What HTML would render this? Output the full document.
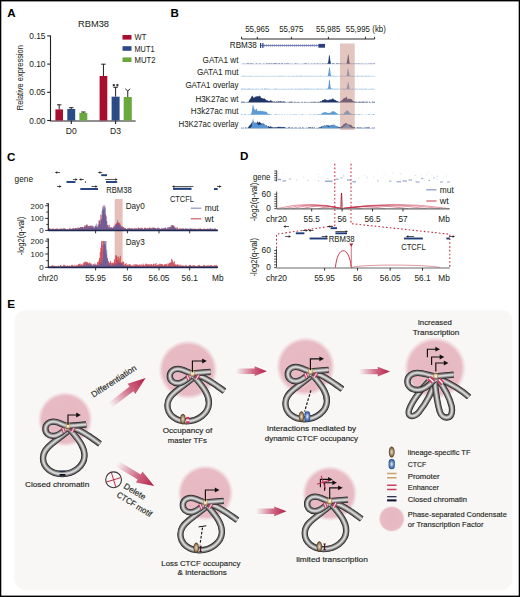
<!DOCTYPE html>
<html><head><meta charset="utf-8"><style>
html,body{margin:0;padding:0;background:#fff;}
svg{display:block;font-family:"Liberation Sans", sans-serif;} text{stroke:#231f20;stroke-width:0.04px;} .e text{stroke-width:0.14px;}
</style></head><body>
<svg width="520" height="597" viewBox="0 0 520 597">
<rect x="0" y="0" width="520" height="597" fill="#fff"/>
<text x="7.2" y="16.7" font-size="11.6" text-anchor="start" fill="#000" font-weight="bold" >A</text>
<text x="93.5" y="27.4" font-size="9.9" text-anchor="middle" fill="#231f20" font-weight="normal" textLength="31" lengthAdjust="spacingAndGlyphs" >RBM38</text>
<text transform="translate(22.8,77.7) rotate(-90)" x="0" y="0" font-size="8.2" text-anchor="middle" fill="#231f20" textLength="65" lengthAdjust="spacingAndGlyphs">Relative expression</text>
<g stroke="#231f20" stroke-width="1.1" fill="none">
<path d="M50.5,35.4 V121 H135.6"/>
<path d="M47.2,35.9 H50.5"/>
<path d="M47.2,64.1 H50.5"/>
<path d="M47.2,92.3 H50.5"/>
<path d="M47.2,120.5 H50.5"/>
<path d="M71.3,120.5 V124 M115.6,120.5 V124"/>
</g>
<text x="45.5" y="38.9" font-size="8.3" text-anchor="end" fill="#231f20" font-weight="normal" textLength="16.2" lengthAdjust="spacingAndGlyphs" >0.15</text>
<text x="45.5" y="67.1" font-size="8.3" text-anchor="end" fill="#231f20" font-weight="normal" textLength="16.2" lengthAdjust="spacingAndGlyphs" >0.10</text>
<text x="45.5" y="95.3" font-size="8.3" text-anchor="end" fill="#231f20" font-weight="normal" textLength="16.2" lengthAdjust="spacingAndGlyphs" >0.05</text>
<text x="45.5" y="123.5" font-size="8.3" text-anchor="end" fill="#231f20" font-weight="normal" textLength="16.2" lengthAdjust="spacingAndGlyphs" >0.00</text>
<text x="71.3" y="133.6" font-size="8.6" text-anchor="middle" fill="#231f20" font-weight="normal" >D0</text>
<text x="115.6" y="133.6" font-size="8.6" text-anchor="middle" fill="#231f20" font-weight="normal" >D3</text>
<path d="M59.2,109.4 V104.8 M57.0,104.8 H61.400000000000006" stroke="#231f20" stroke-width="1"/>
<rect x="55.4" y="109.4" width="7.600000000000001" height="11.099999999999994" fill="#a80f2f"/>
<path d="M71.25,109.0 V107.7 M69.05,107.7 H73.45" stroke="#231f20" stroke-width="1"/>
<rect x="67.3" y="109.0" width="7.900000000000006" height="11.5" fill="#2b4b86"/>
<path d="M83.35,112.9 V112.0 M81.14999999999999,112.0 H85.55" stroke="#231f20" stroke-width="1"/>
<rect x="79.4" y="112.9" width="7.8999999999999915" height="7.599999999999994" fill="#69a83d"/>
<path d="M103.44999999999999,76.0 V64.2 M101.24999999999999,64.2 H105.64999999999999" stroke="#231f20" stroke-width="1"/>
<rect x="99.6" y="76.0" width="7.700000000000003" height="44.5" fill="#a80f2f"/>
<path d="M115.6,96.7 V87.3 M113.39999999999999,87.3 H117.8" stroke="#231f20" stroke-width="1"/>
<rect x="111.6" y="96.7" width="8.0" height="23.799999999999997" fill="#2b4b86"/>
<path d="M127.75,97.0 V90.8" stroke="#231f20" stroke-width="1"/>
<rect x="123.7" y="97.0" width="8.100000000000009" height="23.5" fill="#69a83d"/>
<path d="M113.80,83.90 L113.80,86.50 M112.67,84.55 L114.93,85.85 M114.93,84.55 L112.67,85.85 " stroke="#231f20" stroke-width="0.8"/>
<path d="M117.40,83.90 L117.40,86.50 M116.27,84.55 L118.53,85.85 M118.53,84.55 L116.27,85.85 " stroke="#231f20" stroke-width="0.8"/>
<path d="M125.3,88.8 L127.75,91 L130.2,88.8" stroke="#231f20" stroke-width="1" fill="none"/>
<rect x="122.5" y="35.0" width="9" height="4.6" fill="#a80f2f"/>
<text x="134.5" y="40.3" font-size="8.3" text-anchor="start" fill="#231f20" font-weight="normal" textLength="11.75" lengthAdjust="spacingAndGlyphs" >WT</text>
<rect x="122.5" y="46.2" width="9" height="4.6" fill="#2b4b86"/>
<text x="134.5" y="51.5" font-size="8.3" text-anchor="start" fill="#231f20" font-weight="normal" textLength="20" lengthAdjust="spacingAndGlyphs" >MUT1</text>
<rect x="122.5" y="57.4" width="9" height="4.6" fill="#69a83d"/>
<text x="134.5" y="62.699999999999996" font-size="8.3" text-anchor="start" fill="#231f20" font-weight="normal" textLength="21" lengthAdjust="spacingAndGlyphs" >MUT2</text>
<text x="170.5" y="17" font-size="11.6" text-anchor="start" fill="#000" font-weight="bold" >B</text>
<text x="257.3" y="31.75" font-size="8.4" text-anchor="middle" fill="#231f20" font-weight="normal" textLength="24.2" lengthAdjust="spacingAndGlyphs" >55,965</text>
<text x="291.3" y="31.75" font-size="8.4" text-anchor="middle" fill="#231f20" font-weight="normal" textLength="24.2" lengthAdjust="spacingAndGlyphs" >55,975</text>
<text x="328.2" y="31.75" font-size="8.4" text-anchor="middle" fill="#231f20" font-weight="normal" textLength="24.2" lengthAdjust="spacingAndGlyphs" >55,985</text>
<text x="357.9" y="31.75" font-size="8.4" text-anchor="middle" fill="#231f20" font-weight="normal" textLength="24.2" lengthAdjust="spacingAndGlyphs" >55,995</text>
<text x="372.3" y="31.75" font-size="8.4" text-anchor="start" fill="#231f20" font-weight="normal" textLength="13.5" lengthAdjust="spacingAndGlyphs" >(kb)</text>
<path d="M241.5,39 H374.6 M241.5,36.8 V39 M374.6,36.8 V39 M257.3,36.8 V39 M291.4,36.8 V39 M328.4,36.8 V39 M365.4,36.8 V39" stroke="#231f20" stroke-width="0.95" fill="none"/>
<text x="256.8" y="48.3" font-size="8.3" text-anchor="end" fill="#231f20" font-weight="normal" textLength="27" lengthAdjust="spacingAndGlyphs" >RBM38</text>
<path d="M260,45.5 H318" stroke="#4a5aa0" stroke-width="0.8"/>
<path d="M262,43.8 M264,44 L265.2,45.5 L264,47 M266,44 L267.2,45.5 L266,47 M268,44 L269.2,45.5 L268,47 M270,44 L271.2,45.5 L270,47 M272,44 L273.2,45.5 L272,47 M274,44 L275.2,45.5 L274,47 M276,44 L277.2,45.5 L276,47 M278,44 L279.2,45.5 L278,47 M280,44 L281.2,45.5 L280,47 M282,44 L283.2,45.5 L282,47 M284,44 L285.2,45.5 L284,47 M286,44 L287.2,45.5 L286,47 M288,44 L289.2,45.5 L288,47 M290,44 L291.2,45.5 L290,47 M292,44 L293.2,45.5 L292,47 M294,44 L295.2,45.5 L294,47 M296,44 L297.2,45.5 L296,47 M298,44 L299.2,45.5 L298,47 M300,44 L301.2,45.5 L300,47 M302,44 L303.2,45.5 L302,47 M304,44 L305.2,45.5 L304,47 M306,44 L307.2,45.5 L306,47 M308,44 L309.2,45.5 L308,47 M310,44 L311.2,45.5 L310,47 M312,44 L313.2,45.5 L312,47 M314,44 L315.2,45.5 L314,47 M316,44 L317.2,45.5 L316,47" stroke="#6a78b8" stroke-width="0.5" fill="none"/>
<rect x="260" y="43" width="1.2" height="5" fill="#2b3f80"/><rect x="262.3" y="43" width="1.2" height="5" fill="#2b3f80"/>
<rect x="318.3" y="43.9" width="6.7" height="3.8" fill="#2b3f80"/>
<text x="238.5" y="63" font-size="8.2" text-anchor="end" fill="#231f20" font-weight="normal" textLength="35.9" lengthAdjust="spacingAndGlyphs" >GATA1 wt</text>
<text x="238.5" y="75.3" font-size="8.2" text-anchor="end" fill="#231f20" font-weight="normal" textLength="41.6" lengthAdjust="spacingAndGlyphs" >GATA1 mut</text>
<text x="238.5" y="88.2" font-size="8.2" text-anchor="end" fill="#231f20" font-weight="normal" textLength="53.1" lengthAdjust="spacingAndGlyphs" >GATA1 overlay</text>
<text x="238.5" y="101.6" font-size="8.2" text-anchor="end" fill="#231f20" font-weight="normal" textLength="43.1" lengthAdjust="spacingAndGlyphs" >H3K27ac wt</text>
<text x="238.5" y="113.8" font-size="8.2" text-anchor="end" fill="#231f20" font-weight="normal" textLength="47.7" lengthAdjust="spacingAndGlyphs" >H3k27ac mut</text>
<text x="238.5" y="127.30000000000001" font-size="8.2" text-anchor="end" fill="#231f20" font-weight="normal" textLength="60" lengthAdjust="spacingAndGlyphs" >H3K27ac overlay</text>
<path d="M241,64 L241.0,64.00 L241.5,63.95 L242.0,63.96 L242.5,64.00 L243.0,63.70 L243.5,63.84 L244.0,63.60 L244.5,63.97 L245.0,64.00 L245.5,64.00 L246.0,63.55 L246.5,64.00 L247.0,63.52 L247.5,63.59 L248.0,63.44 L248.5,63.60 L249.0,63.49 L249.5,63.92 L250.0,63.89 L250.5,63.53 L251.0,63.39 L251.5,63.58 L252.0,63.41 L252.5,64.00 L253.0,63.55 L253.5,63.80 L254.0,63.98 L254.5,64.00 L255.0,64.00 L255.5,64.00 L256.0,63.62 L256.5,63.40 L257.0,63.75 L257.5,64.00 L258.0,63.84 L258.5,64.00 L259.0,63.74 L259.5,63.52 L260.0,64.00 L260.5,63.45 L261.0,63.73 L261.5,64.00 L262.0,64.00 L262.5,64.00 L263.0,63.93 L263.5,63.39 L264.0,63.82 L264.5,63.91 L265.0,63.67 L265.5,63.93 L266.0,64.00 L266.5,63.33 L267.0,64.00 L267.5,63.32 L268.0,63.82 L268.5,63.46 L269.0,64.00 L269.5,63.31 L270.0,63.43 L270.5,63.64 L271.0,63.98 L271.5,63.52 L272.0,63.34 L272.5,64.00 L273.0,64.00 L273.5,63.37 L274.0,63.54 L274.5,63.54 L275.0,63.47 L275.5,63.45 L276.0,63.32 L276.5,63.34 L277.0,64.00 L277.5,64.00 L278.0,63.31 L278.5,64.00 L279.0,63.32 L279.5,63.35 L280.0,64.00 L280.5,64.00 L281.0,63.82 L281.5,63.36 L282.0,63.59 L282.5,63.36 L283.0,64.00 L283.5,64.00 L284.0,63.88 L284.5,63.61 L285.0,63.61 L285.5,64.00 L286.0,63.46 L286.5,63.47 L287.0,63.57 L287.5,63.52 L288.0,63.67 L288.5,63.39 L289.0,63.61 L289.5,64.00 L290.0,64.00 L290.5,63.53 L291.0,63.89 L291.5,63.90 L292.0,63.85 L292.5,63.66 L293.0,63.89 L293.5,64.00 L294.0,64.00 L294.5,64.00 L295.0,63.56 L295.5,63.31 L296.0,63.93 L296.5,63.45 L297.0,63.70 L297.5,64.00 L298.0,63.60 L298.5,63.96 L299.0,63.95 L299.5,64.00 L300.0,63.95 L300.5,63.76 L301.0,64.00 L301.5,64.00 L302.0,64.00 L302.5,63.79 L303.0,64.00 L303.5,63.99 L304.0,63.49 L304.5,63.67 L305.0,63.43 L305.5,63.42 L306.0,63.52 L306.5,63.42 L307.0,63.72 L307.5,64.00 L308.0,64.00 L308.5,63.41 L309.0,64.00 L309.5,64.00 L310.0,63.82 L310.5,64.00 L311.0,63.78 L311.5,63.73 L312.0,63.86 L312.5,64.00 L313.0,64.00 L313.5,63.84 L314.0,63.47 L314.5,63.38 L315.0,64.00 L315.5,64.00 L316.0,63.38 L316.5,64.00 L317.0,63.65 L317.5,63.42 L318.0,63.52 L318.5,64.00 L319.0,63.93 L319.5,63.56 L320.0,64.00 L320.5,63.48 L321.0,64.00 L321.5,64.00 L322.0,64.00 L322.5,63.32 L323.0,63.66 L323.5,63.57 L324.0,63.90 L324.5,63.79 L325.0,63.96 L325.5,63.52 L326.0,63.64 L326.5,63.92 L327.0,63.31 L327.5,63.55 L328.0,62.98 L328.5,60.58 L329.0,55.18 L329.5,54.99 L330.0,58.23 L330.5,61.74 L331.0,63.62 L331.5,63.96 L332.0,63.78 L332.5,63.47 L333.0,63.35 L333.5,63.80 L334.0,63.30 L334.5,63.70 L335.0,63.93 L335.5,64.00 L336.0,64.00 L336.5,63.33 L337.0,63.56 L337.5,63.62 L338.0,63.49 L338.5,63.55 L339.0,64.00 L339.5,63.76 L340.0,63.32 L340.5,63.79 L341.0,64.00 L341.5,63.37 L342.0,63.37 L342.5,64.00 L343.0,64.00 L343.5,63.82 L344.0,63.48 L344.5,63.63 L345.0,63.96 L345.5,63.91 L346.0,63.98 L346.5,63.58 L347.0,61.58 L347.5,58.67 L348.0,54.51 L348.5,54.57 L349.0,58.57 L349.5,63.04 L350.0,63.44 L350.5,63.48 L351.0,63.68 L351.5,64.00 L352.0,63.55 L352.5,63.82 L353.0,64.00 L353.5,63.59 L354.0,64.00 L354.5,63.68 L355.0,63.38 L355.5,63.83 L356.0,64.00 L356.5,63.53 L357.0,63.53 L357.5,63.98 L358.0,64.00 L358.5,63.48 L359.0,63.32 L359.5,64.00 L360.0,63.79 L360.5,64.00 L361.0,63.53 L361.5,64.00 L362.0,64.00 L362.5,63.72 L363.0,63.49 L363.5,64.00 L364.0,64.00 L364.5,63.73 L365.0,64.00 L365.5,63.75 L366.0,64.00 L366.5,63.42 L367.0,63.97 L367.5,64.00 L368.0,64.00 L368.5,63.43 L369.0,64.00 L369.5,63.82 L370.0,63.76 L370.5,63.57 L371.0,63.78 L371.5,63.47 L372.0,64.00 L372.5,63.67 L373.0,63.73 L373.5,63.65 L374.0,63.44 L374.5,63.46 L375.0,63.78 L375,64 Z" fill="#1e3566"/>
<path d="M241,64 H375" stroke="#b8c4e0" stroke-width="0.6"/>
<path d="M241,76.3 L241.0,76.30 L241.5,76.30 L242.0,75.91 L242.5,75.68 L243.0,76.30 L243.5,75.80 L244.0,76.01 L244.5,75.78 L245.0,76.22 L245.5,75.90 L246.0,76.30 L246.5,76.19 L247.0,76.07 L247.5,76.30 L248.0,75.84 L248.5,75.97 L249.0,76.30 L249.5,76.30 L250.0,75.89 L250.5,75.69 L251.0,75.76 L251.5,75.88 L252.0,76.30 L252.5,76.12 L253.0,76.30 L253.5,76.30 L254.0,76.16 L254.5,76.30 L255.0,75.91 L255.5,76.19 L256.0,76.10 L256.5,76.08 L257.0,76.01 L257.5,76.30 L258.0,76.30 L258.5,76.00 L259.0,75.68 L259.5,76.29 L260.0,76.30 L260.5,76.04 L261.0,76.10 L261.5,76.22 L262.0,76.30 L262.5,75.64 L263.0,76.26 L263.5,75.67 L264.0,76.19 L264.5,76.02 L265.0,76.30 L265.5,75.94 L266.0,76.13 L266.5,76.27 L267.0,76.27 L267.5,75.88 L268.0,76.09 L268.5,76.00 L269.0,76.30 L269.5,76.30 L270.0,75.75 L270.5,76.30 L271.0,76.30 L271.5,76.30 L272.0,76.24 L272.5,76.30 L273.0,76.04 L273.5,75.70 L274.0,76.30 L274.5,75.96 L275.0,76.18 L275.5,76.25 L276.0,76.19 L276.5,76.30 L277.0,76.30 L277.5,75.95 L278.0,76.30 L278.5,75.82 L279.0,76.30 L279.5,75.85 L280.0,75.91 L280.5,76.23 L281.0,76.02 L281.5,75.61 L282.0,75.76 L282.5,76.30 L283.0,76.12 L283.5,75.89 L284.0,76.30 L284.5,75.87 L285.0,76.30 L285.5,76.30 L286.0,76.30 L286.5,76.14 L287.0,76.16 L287.5,76.21 L288.0,76.30 L288.5,75.69 L289.0,76.30 L289.5,75.91 L290.0,75.99 L290.5,76.13 L291.0,75.93 L291.5,76.26 L292.0,75.91 L292.5,76.16 L293.0,75.85 L293.5,76.08 L294.0,75.68 L294.5,76.30 L295.0,75.97 L295.5,76.30 L296.0,76.27 L296.5,75.81 L297.0,76.11 L297.5,75.75 L298.0,75.85 L298.5,76.30 L299.0,76.13 L299.5,75.78 L300.0,76.30 L300.5,75.86 L301.0,75.61 L301.5,75.81 L302.0,75.79 L302.5,76.15 L303.0,76.30 L303.5,76.23 L304.0,76.30 L304.5,75.82 L305.0,76.30 L305.5,76.05 L306.0,76.30 L306.5,75.66 L307.0,76.30 L307.5,75.71 L308.0,75.72 L308.5,76.30 L309.0,76.16 L309.5,76.29 L310.0,75.80 L310.5,75.63 L311.0,76.30 L311.5,75.99 L312.0,75.81 L312.5,76.30 L313.0,76.30 L313.5,75.77 L314.0,75.96 L314.5,76.17 L315.0,75.72 L315.5,76.30 L316.0,76.30 L316.5,76.24 L317.0,75.75 L317.5,76.02 L318.0,76.24 L318.5,76.16 L319.0,75.95 L319.5,76.14 L320.0,75.77 L320.5,76.06 L321.0,75.71 L321.5,76.18 L322.0,76.30 L322.5,76.30 L323.0,76.09 L323.5,76.30 L324.0,76.07 L324.5,76.30 L325.0,76.30 L325.5,76.23 L326.0,75.74 L326.5,76.16 L327.0,76.15 L327.5,75.90 L328.0,75.12 L328.5,72.84 L329.0,68.20 L329.5,66.81 L330.0,69.12 L330.5,73.32 L331.0,75.43 L331.5,76.05 L332.0,76.00 L332.5,75.86 L333.0,75.98 L333.5,75.83 L334.0,75.84 L334.5,75.96 L335.0,76.30 L335.5,75.64 L336.0,75.90 L336.5,75.94 L337.0,75.93 L337.5,76.15 L338.0,76.30 L338.5,76.30 L339.0,76.30 L339.5,76.01 L340.0,76.30 L340.5,75.64 L341.0,75.74 L341.5,76.21 L342.0,75.86 L342.5,76.14 L343.0,75.85 L343.5,75.97 L344.0,76.21 L344.5,75.70 L345.0,76.12 L345.5,76.30 L346.0,76.11 L346.5,75.74 L347.0,74.41 L347.5,70.86 L348.0,67.14 L348.5,70.18 L349.0,72.16 L349.5,75.36 L350.0,75.62 L350.5,75.66 L351.0,75.68 L351.5,75.83 L352.0,76.30 L352.5,75.93 L353.0,75.68 L353.5,76.30 L354.0,76.26 L354.5,75.96 L355.0,76.30 L355.5,75.97 L356.0,75.71 L356.5,76.30 L357.0,76.30 L357.5,75.82 L358.0,75.61 L358.5,76.30 L359.0,75.86 L359.5,76.04 L360.0,76.30 L360.5,76.00 L361.0,76.09 L361.5,75.95 L362.0,75.62 L362.5,76.07 L363.0,75.89 L363.5,76.27 L364.0,76.30 L364.5,76.30 L365.0,75.87 L365.5,75.66 L366.0,75.86 L366.5,76.30 L367.0,75.98 L367.5,76.30 L368.0,75.66 L368.5,75.72 L369.0,76.12 L369.5,76.08 L370.0,76.30 L370.5,76.30 L371.0,75.90 L371.5,76.29 L372.0,75.64 L372.5,76.30 L373.0,76.30 L373.5,76.30 L374.0,76.30 L374.5,76.30 L375.0,76.13 L375,76.3 Z" fill="#5d9bd6"/>
<path d="M241,76.3 H375" stroke="#b0d0ee" stroke-width="0.6"/>
<path d="M241,89.2 L241.0,89.16 L241.5,88.60 L242.0,88.76 L242.5,88.55 L243.0,89.20 L243.5,88.74 L244.0,88.98 L244.5,88.60 L245.0,88.94 L245.5,89.20 L246.0,88.95 L246.5,88.91 L247.0,88.54 L247.5,89.20 L248.0,88.71 L248.5,88.78 L249.0,88.78 L249.5,88.58 L250.0,88.78 L250.5,89.20 L251.0,88.90 L251.5,89.20 L252.0,88.63 L252.5,89.01 L253.0,88.72 L253.5,89.14 L254.0,89.06 L254.5,89.04 L255.0,89.20 L255.5,88.67 L256.0,89.14 L256.5,89.04 L257.0,88.58 L257.5,89.20 L258.0,89.07 L258.5,88.80 L259.0,89.20 L259.5,89.20 L260.0,89.20 L260.5,88.96 L261.0,89.18 L261.5,88.86 L262.0,88.65 L262.5,88.66 L263.0,89.20 L263.5,89.20 L264.0,88.81 L264.5,88.54 L265.0,88.78 L265.5,88.53 L266.0,88.75 L266.5,88.92 L267.0,88.52 L267.5,89.17 L268.0,88.57 L268.5,89.17 L269.0,88.75 L269.5,89.10 L270.0,88.73 L270.5,89.20 L271.0,89.20 L271.5,89.20 L272.0,89.20 L272.5,89.20 L273.0,89.05 L273.5,89.20 L274.0,89.13 L274.5,88.76 L275.0,88.62 L275.5,89.20 L276.0,88.70 L276.5,88.59 L277.0,89.09 L277.5,89.20 L278.0,88.98 L278.5,89.20 L279.0,89.20 L279.5,89.00 L280.0,88.95 L280.5,89.20 L281.0,89.20 L281.5,88.99 L282.0,88.64 L282.5,89.20 L283.0,89.07 L283.5,89.05 L284.0,89.07 L284.5,89.20 L285.0,88.77 L285.5,89.06 L286.0,88.63 L286.5,89.15 L287.0,89.20 L287.5,88.97 L288.0,89.20 L288.5,88.87 L289.0,89.07 L289.5,89.09 L290.0,89.20 L290.5,89.20 L291.0,88.63 L291.5,88.70 L292.0,89.16 L292.5,88.85 L293.0,89.20 L293.5,89.20 L294.0,89.02 L294.5,89.13 L295.0,89.19 L295.5,88.83 L296.0,88.59 L296.5,89.11 L297.0,89.20 L297.5,89.10 L298.0,89.10 L298.5,89.08 L299.0,88.93 L299.5,88.83 L300.0,88.66 L300.5,88.97 L301.0,88.64 L301.5,89.20 L302.0,88.53 L302.5,88.90 L303.0,89.20 L303.5,89.20 L304.0,88.52 L304.5,88.76 L305.0,89.20 L305.5,89.01 L306.0,88.82 L306.5,89.02 L307.0,88.53 L307.5,89.20 L308.0,88.53 L308.5,88.87 L309.0,89.20 L309.5,88.92 L310.0,89.14 L310.5,88.77 L311.0,89.06 L311.5,88.82 L312.0,89.20 L312.5,88.84 L313.0,89.19 L313.5,89.03 L314.0,89.00 L314.5,89.20 L315.0,88.59 L315.5,88.93 L316.0,89.20 L316.5,89.20 L317.0,88.95 L317.5,88.61 L318.0,88.68 L318.5,88.87 L319.0,89.20 L319.5,89.20 L320.0,88.85 L320.5,88.91 L321.0,88.77 L321.5,88.88 L322.0,88.93 L322.5,88.97 L323.0,88.85 L323.5,89.20 L324.0,89.20 L324.5,88.97 L325.0,89.20 L325.5,89.20 L326.0,88.80 L326.5,88.66 L327.0,88.83 L327.5,88.81 L328.0,88.05 L328.5,85.88 L329.0,80.89 L329.5,79.25 L330.0,81.59 L330.5,86.56 L331.0,88.60 L331.5,88.59 L332.0,88.57 L332.5,88.51 L333.0,89.09 L333.5,89.20 L334.0,88.76 L334.5,88.50 L335.0,88.91 L335.5,89.20 L336.0,88.61 L336.5,89.06 L337.0,89.01 L337.5,88.50 L338.0,89.20 L338.5,89.20 L339.0,88.83 L339.5,89.20 L340.0,88.66 L340.5,89.20 L341.0,89.13 L341.5,88.96 L342.0,89.16 L342.5,88.53 L343.0,89.20 L343.5,88.60 L344.0,88.63 L344.5,88.53 L345.0,89.03 L345.5,89.04 L346.0,88.84 L346.5,88.87 L347.0,87.05 L347.5,84.69 L348.0,82.33 L348.5,81.79 L349.0,85.61 L349.5,88.19 L350.0,88.96 L350.5,89.00 L351.0,88.89 L351.5,89.09 L352.0,88.94 L352.5,88.53 L353.0,89.20 L353.5,89.02 L354.0,89.20 L354.5,89.05 L355.0,88.84 L355.5,88.66 L356.0,88.80 L356.5,89.20 L357.0,88.98 L357.5,88.81 L358.0,89.20 L358.5,89.20 L359.0,89.00 L359.5,88.66 L360.0,89.11 L360.5,88.72 L361.0,88.91 L361.5,89.03 L362.0,89.20 L362.5,88.56 L363.0,89.20 L363.5,89.06 L364.0,89.17 L364.5,89.07 L365.0,88.70 L365.5,88.72 L366.0,88.62 L366.5,89.17 L367.0,89.20 L367.5,89.20 L368.0,89.20 L368.5,88.92 L369.0,89.20 L369.5,88.90 L370.0,88.68 L370.5,89.20 L371.0,88.90 L371.5,89.11 L372.0,88.71 L372.5,88.82 L373.0,89.20 L373.5,88.95 L374.0,89.20 L374.5,89.20 L375.0,88.84 L375,89.2 Z" fill="#5d9bd6"/>
<path d="M241,89.2 H375" stroke="#b0d0ee" stroke-width="0.6"/>
<path d="M241,102.6 L241.0,102.18 L241.5,101.54 L242.0,101.92 L242.5,101.62 L243.0,101.69 L243.5,101.80 L244.0,102.05 L244.5,101.60 L245.0,102.25 L245.5,102.35 L246.0,102.25 L246.5,101.72 L247.0,102.38 L247.5,101.85 L248.0,102.07 L248.5,101.72 L249.0,100.68 L249.5,99.47 L250.0,99.61 L250.5,98.44 L251.0,97.75 L251.5,96.48 L252.0,95.91 L252.5,95.42 L253.0,97.34 L253.5,98.23 L254.0,96.17 L254.5,98.20 L255.0,96.59 L255.5,97.35 L256.0,95.93 L256.5,96.67 L257.0,95.89 L257.5,96.56 L258.0,96.19 L258.5,96.21 L259.0,96.57 L259.5,95.61 L260.0,95.73 L260.5,96.65 L261.0,98.10 L261.5,97.81 L262.0,98.06 L262.5,98.46 L263.0,98.14 L263.5,98.81 L264.0,98.39 L264.5,98.75 L265.0,98.18 L265.5,99.68 L266.0,99.56 L266.5,100.34 L267.0,100.39 L267.5,99.99 L268.0,101.22 L268.5,100.78 L269.0,101.07 L269.5,101.31 L270.0,100.55 L270.5,100.14 L271.0,100.14 L271.5,100.79 L272.0,101.69 L272.5,101.30 L273.0,101.35 L273.5,101.64 L274.0,101.97 L274.5,101.34 L275.0,102.11 L275.5,101.84 L276.0,101.51 L276.5,101.53 L277.0,101.49 L277.5,101.66 L278.0,101.66 L278.5,101.35 L279.0,100.89 L279.5,101.69 L280.0,101.50 L280.5,101.23 L281.0,101.28 L281.5,101.26 L282.0,101.90 L282.5,101.98 L283.0,101.10 L283.5,101.33 L284.0,102.11 L284.5,101.54 L285.0,101.44 L285.5,102.25 L286.0,101.83 L286.5,102.37 L287.0,102.50 L287.5,102.13 L288.0,101.87 L288.5,102.23 L289.0,102.08 L289.5,101.85 L290.0,101.92 L290.5,101.55 L291.0,101.71 L291.5,101.68 L292.0,101.61 L292.5,102.15 L293.0,101.46 L293.5,102.55 L294.0,102.48 L294.5,101.64 L295.0,101.49 L295.5,102.29 L296.0,102.06 L296.5,101.90 L297.0,102.57 L297.5,101.64 L298.0,101.93 L298.5,101.78 L299.0,102.43 L299.5,101.95 L300.0,101.63 L300.5,102.58 L301.0,102.42 L301.5,101.55 L302.0,102.56 L302.5,101.62 L303.0,102.13 L303.5,102.41 L304.0,102.13 L304.5,101.87 L305.0,102.20 L305.5,101.53 L306.0,102.55 L306.5,102.17 L307.0,101.91 L307.5,102.18 L308.0,101.91 L308.5,102.58 L309.0,101.42 L309.5,102.43 L310.0,102.27 L310.5,102.00 L311.0,101.92 L311.5,101.45 L312.0,102.56 L312.5,101.67 L313.0,101.67 L313.5,101.84 L314.0,102.26 L314.5,101.55 L315.0,101.78 L315.5,101.67 L316.0,101.97 L316.5,102.15 L317.0,102.08 L317.5,102.13 L318.0,101.30 L318.5,102.00 L319.0,102.07 L319.5,102.13 L320.0,101.04 L320.5,101.34 L321.0,101.44 L321.5,101.45 L322.0,100.67 L322.5,99.95 L323.0,99.91 L323.5,100.08 L324.0,99.94 L324.5,99.06 L325.0,99.19 L325.5,99.45 L326.0,99.13 L326.5,100.11 L327.0,100.61 L327.5,99.96 L328.0,100.37 L328.5,100.27 L329.0,99.42 L329.5,100.07 L330.0,99.12 L330.5,99.80 L331.0,99.11 L331.5,100.00 L332.0,98.58 L332.5,98.29 L333.0,99.51 L333.5,98.54 L334.0,99.08 L334.5,100.04 L335.0,100.19 L335.5,99.95 L336.0,100.22 L336.5,100.90 L337.0,101.26 L337.5,100.85 L338.0,101.79 L338.5,101.18 L339.0,102.03 L339.5,101.84 L340.0,101.80 L340.5,101.31 L341.0,100.87 L341.5,100.46 L342.0,100.37 L342.5,100.01 L343.0,98.83 L343.5,98.85 L344.0,97.99 L344.5,98.32 L345.0,97.87 L345.5,98.20 L346.0,96.82 L346.5,96.85 L347.0,97.62 L347.5,99.24 L348.0,99.38 L348.5,98.46 L349.0,98.50 L349.5,99.38 L350.0,98.87 L350.5,98.77 L351.0,99.29 L351.5,99.26 L352.0,99.86 L352.5,100.55 L353.0,101.17 L353.5,101.05 L354.0,101.48 L354.5,101.69 L355.0,101.51 L355.5,101.90 L356.0,101.48 L356.5,101.84 L357.0,102.30 L357.5,102.08 L358.0,102.36 L358.5,101.83 L359.0,101.41 L359.5,101.92 L360.0,101.56 L360.5,102.28 L361.0,101.61 L361.5,102.20 L362.0,101.53 L362.5,101.78 L363.0,102.06 L363.5,101.54 L364.0,101.54 L364.5,101.66 L365.0,102.38 L365.5,101.41 L366.0,102.57 L366.5,101.43 L367.0,101.51 L367.5,101.72 L368.0,102.40 L368.5,102.49 L369.0,101.50 L369.5,101.54 L370.0,102.56 L370.5,101.65 L371.0,102.55 L371.5,102.32 L372.0,102.47 L372.5,101.41 L373.0,101.55 L373.5,102.02 L374.0,102.09 L374.5,101.78 L375.0,101.71 L375,102.6 Z" fill="#1e3566"/>
<path d="M241,114.8 L241.0,114.71 L241.5,114.07 L242.0,114.03 L242.5,114.80 L243.0,114.80 L243.5,114.47 L244.0,114.79 L244.5,114.36 L245.0,114.01 L245.5,114.48 L246.0,114.02 L246.5,114.80 L247.0,114.80 L247.5,114.59 L248.0,114.80 L248.5,114.11 L249.0,114.74 L249.5,114.24 L250.0,114.70 L250.5,113.92 L251.0,114.32 L251.5,112.72 L252.0,110.53 L252.5,106.36 L253.0,104.52 L253.5,105.95 L254.0,108.13 L254.5,109.24 L255.0,109.69 L255.5,110.53 L256.0,108.78 L256.5,108.40 L257.0,109.42 L257.5,111.08 L258.0,111.14 L258.5,110.70 L259.0,110.76 L259.5,110.99 L260.0,111.23 L260.5,110.58 L261.0,110.96 L261.5,111.21 L262.0,111.20 L262.5,110.48 L263.0,111.42 L263.5,111.17 L264.0,111.00 L264.5,111.73 L265.0,111.72 L265.5,111.21 L266.0,111.76 L266.5,112.07 L267.0,112.30 L267.5,113.39 L268.0,113.69 L268.5,113.71 L269.0,114.10 L269.5,114.03 L270.0,114.05 L270.5,114.38 L271.0,114.20 L271.5,114.25 L272.0,114.80 L272.5,114.74 L273.0,114.73 L273.5,114.76 L274.0,114.80 L274.5,114.47 L275.0,114.15 L275.5,114.53 L276.0,114.01 L276.5,114.55 L277.0,114.36 L277.5,114.76 L278.0,114.16 L278.5,114.80 L279.0,114.50 L279.5,114.33 L280.0,114.64 L280.5,114.76 L281.0,114.47 L281.5,114.58 L282.0,114.23 L282.5,114.44 L283.0,114.80 L283.5,114.80 L284.0,114.74 L284.5,114.06 L285.0,114.40 L285.5,114.80 L286.0,114.68 L286.5,114.80 L287.0,114.04 L287.5,114.59 L288.0,114.80 L288.5,114.77 L289.0,114.61 L289.5,114.80 L290.0,114.54 L290.5,114.16 L291.0,114.77 L291.5,114.62 L292.0,114.43 L292.5,114.80 L293.0,114.70 L293.5,114.05 L294.0,114.52 L294.5,114.80 L295.0,114.11 L295.5,114.80 L296.0,114.09 L296.5,114.80 L297.0,114.03 L297.5,114.80 L298.0,114.80 L298.5,114.66 L299.0,114.74 L299.5,114.36 L300.0,114.80 L300.5,114.72 L301.0,114.34 L301.5,114.80 L302.0,114.05 L302.5,114.10 L303.0,114.72 L303.5,114.40 L304.0,114.80 L304.5,114.39 L305.0,114.80 L305.5,114.61 L306.0,114.80 L306.5,114.41 L307.0,114.80 L307.5,114.68 L308.0,114.49 L308.5,114.80 L309.0,114.61 L309.5,114.80 L310.0,114.32 L310.5,114.31 L311.0,114.53 L311.5,114.80 L312.0,114.47 L312.5,114.60 L313.0,114.68 L313.5,114.80 L314.0,114.02 L314.5,114.42 L315.0,114.07 L315.5,114.64 L316.0,114.80 L316.5,114.80 L317.0,114.26 L317.5,114.13 L318.0,114.19 L318.5,114.30 L319.0,114.13 L319.5,113.93 L320.0,114.53 L320.5,114.36 L321.0,114.26 L321.5,113.72 L322.0,113.21 L322.5,112.69 L323.0,112.80 L323.5,112.45 L324.0,111.80 L324.5,112.81 L325.0,112.24 L325.5,111.96 L326.0,111.92 L326.5,112.50 L327.0,112.71 L327.5,112.83 L328.0,113.05 L328.5,112.89 L329.0,113.04 L329.5,112.72 L330.0,112.53 L330.5,112.40 L331.0,112.76 L331.5,112.08 L332.0,111.49 L332.5,111.33 L333.0,110.87 L333.5,111.63 L334.0,110.97 L334.5,111.77 L335.0,112.00 L335.5,112.15 L336.0,112.86 L336.5,112.89 L337.0,112.99 L337.5,114.01 L338.0,113.96 L338.5,114.22 L339.0,114.41 L339.5,114.04 L340.0,114.42 L340.5,113.88 L341.0,114.11 L341.5,114.08 L342.0,114.38 L342.5,113.81 L343.0,113.83 L343.5,113.90 L344.0,113.42 L344.5,112.37 L345.0,112.41 L345.5,112.05 L346.0,111.35 L346.5,110.77 L347.0,109.76 L347.5,110.87 L348.0,111.32 L348.5,111.09 L349.0,111.74 L349.5,112.38 L350.0,113.45 L350.5,113.22 L351.0,113.47 L351.5,114.30 L352.0,113.99 L352.5,114.57 L353.0,113.95 L353.5,114.14 L354.0,114.19 L354.5,114.15 L355.0,114.10 L355.5,114.26 L356.0,114.80 L356.5,114.40 L357.0,114.34 L357.5,114.58 L358.0,114.80 L358.5,114.20 L359.0,114.08 L359.5,114.28 L360.0,114.24 L360.5,114.80 L361.0,114.14 L361.5,114.80 L362.0,114.02 L362.5,114.80 L363.0,114.80 L363.5,114.69 L364.0,114.44 L364.5,114.77 L365.0,114.62 L365.5,114.54 L366.0,114.80 L366.5,114.15 L367.0,114.80 L367.5,114.80 L368.0,114.22 L368.5,114.39 L369.0,114.11 L369.5,114.03 L370.0,114.74 L370.5,114.44 L371.0,114.44 L371.5,114.48 L372.0,114.21 L372.5,114.64 L373.0,114.59 L373.5,114.02 L374.0,114.06 L374.5,114.80 L375.0,114.11 L375,114.8 Z" fill="#5d9bd6"/>
<path d="M241,128.3 L241.0,128.01 L241.5,128.12 L242.0,127.21 L242.5,128.25 L243.0,127.91 L243.5,127.42 L244.0,128.19 L244.5,128.13 L245.0,127.78 L245.5,127.29 L246.0,127.76 L246.5,128.12 L247.0,127.59 L247.5,127.89 L248.0,127.81 L248.5,126.66 L249.0,126.03 L249.5,125.68 L250.0,124.29 L250.5,125.20 L251.0,123.37 L251.5,123.68 L252.0,121.11 L252.5,123.12 L253.0,121.73 L253.5,123.41 L254.0,122.02 L254.5,122.88 L255.0,123.94 L255.5,122.76 L256.0,122.94 L256.5,123.40 L257.0,121.86 L257.5,121.13 L258.0,122.80 L258.5,122.56 L259.0,122.19 L259.5,121.56 L260.0,122.55 L260.5,122.76 L261.0,122.88 L261.5,124.10 L262.0,123.10 L262.5,124.19 L263.0,122.97 L263.5,123.40 L264.0,125.20 L264.5,123.43 L265.0,125.77 L265.5,124.94 L266.0,125.67 L266.5,125.30 L267.0,125.86 L267.5,127.01 L268.0,126.38 L268.5,125.87 L269.0,126.68 L269.5,126.84 L270.0,126.78 L270.5,125.92 L271.0,127.05 L271.5,126.62 L272.0,126.92 L272.5,126.95 L273.0,127.82 L273.5,127.37 L274.0,127.63 L274.5,127.28 L275.0,127.11 L275.5,127.57 L276.0,127.31 L276.5,127.50 L277.0,126.76 L277.5,127.46 L278.0,126.79 L278.5,126.78 L279.0,127.20 L279.5,126.78 L280.0,126.68 L280.5,126.82 L281.0,127.58 L281.5,126.82 L282.0,127.12 L282.5,127.29 L283.0,127.05 L283.5,127.08 L284.0,126.96 L284.5,127.33 L285.0,127.36 L285.5,127.69 L286.0,128.00 L286.5,127.75 L287.0,127.99 L287.5,127.89 L288.0,128.18 L288.5,127.21 L289.0,127.27 L289.5,127.38 L290.0,127.47 L290.5,128.02 L291.0,128.28 L291.5,127.32 L292.0,127.94 L292.5,127.45 L293.0,127.43 L293.5,128.18 L294.0,127.95 L294.5,127.90 L295.0,127.24 L295.5,127.72 L296.0,127.71 L296.5,127.85 L297.0,127.54 L297.5,128.20 L298.0,127.98 L298.5,128.29 L299.0,127.51 L299.5,128.11 L300.0,127.54 L300.5,127.48 L301.0,128.03 L301.5,128.27 L302.0,128.07 L302.5,127.24 L303.0,127.65 L303.5,127.64 L304.0,127.97 L304.5,128.23 L305.0,127.90 L305.5,128.18 L306.0,127.23 L306.5,128.00 L307.0,128.10 L307.5,127.97 L308.0,127.54 L308.5,127.50 L309.0,127.27 L309.5,127.38 L310.0,127.39 L310.5,127.36 L311.0,127.56 L311.5,128.29 L312.0,127.30 L312.5,127.57 L313.0,127.57 L313.5,128.14 L314.0,127.22 L314.5,127.58 L315.0,128.05 L315.5,128.27 L316.0,128.14 L316.5,127.87 L317.0,128.10 L317.5,127.95 L318.0,127.63 L318.5,127.83 L319.0,127.74 L319.5,127.12 L320.0,127.62 L320.5,127.21 L321.0,126.68 L321.5,126.39 L322.0,125.95 L322.5,126.67 L323.0,126.17 L323.5,125.43 L324.0,126.19 L324.5,125.60 L325.0,125.55 L325.5,126.06 L326.0,125.44 L326.5,124.83 L327.0,126.21 L327.5,125.28 L328.0,124.91 L328.5,125.66 L329.0,125.22 L329.5,126.21 L330.0,125.37 L330.5,126.03 L331.0,124.72 L331.5,125.18 L332.0,125.08 L332.5,124.85 L333.0,125.32 L333.5,124.26 L334.0,125.82 L334.5,124.95 L335.0,125.96 L335.5,125.42 L336.0,126.32 L336.5,126.14 L337.0,126.87 L337.5,126.28 L338.0,126.68 L338.5,126.79 L339.0,127.50 L339.5,126.86 L340.0,127.56 L340.5,127.16 L341.0,126.99 L341.5,126.13 L342.0,126.06 L342.5,125.81 L343.0,125.50 L343.5,124.14 L344.0,123.56 L344.5,124.15 L345.0,123.66 L345.5,122.85 L346.0,122.72 L346.5,123.67 L347.0,123.37 L347.5,124.47 L348.0,123.92 L348.5,124.69 L349.0,124.78 L349.5,124.18 L350.0,125.27 L350.5,124.44 L351.0,125.62 L351.5,125.08 L352.0,125.65 L352.5,126.78 L353.0,126.73 L353.5,127.21 L354.0,127.24 L354.5,127.12 L355.0,127.20 L355.5,128.21 L356.0,128.18 L356.5,127.98 L357.0,127.23 L357.5,127.84 L358.0,127.37 L358.5,127.58 L359.0,128.17 L359.5,127.58 L360.0,127.42 L360.5,127.24 L361.0,128.22 L361.5,127.67 L362.0,127.54 L362.5,128.04 L363.0,127.72 L363.5,128.22 L364.0,127.61 L364.5,127.56 L365.0,128.29 L365.5,127.55 L366.0,127.59 L366.5,127.25 L367.0,128.04 L367.5,127.25 L368.0,127.85 L368.5,127.31 L369.0,127.49 L369.5,127.57 L370.0,128.16 L370.5,128.06 L371.0,128.26 L371.5,127.85 L372.0,128.21 L372.5,127.26 L373.0,127.91 L373.5,127.82 L374.0,127.77 L374.5,127.56 L375.0,127.89 L375,128.3 Z" fill="#1e3566"/>
<path d="M241,128.3 L241.0,127.76 L241.5,127.86 L242.0,128.16 L242.5,128.12 L243.0,127.71 L243.5,128.30 L244.0,127.79 L244.5,128.30 L245.0,128.30 L245.5,127.80 L246.0,128.22 L246.5,128.20 L247.0,128.08 L247.5,128.30 L248.0,128.30 L248.5,127.80 L249.0,127.77 L249.5,128.12 L250.0,128.20 L250.5,127.86 L251.0,127.36 L251.5,126.82 L252.0,124.36 L252.5,120.53 L253.0,118.14 L253.5,120.40 L254.0,121.89 L254.5,123.13 L255.0,123.25 L255.5,122.11 L256.0,122.75 L256.5,123.85 L257.0,122.63 L257.5,123.64 L258.0,124.89 L258.5,125.41 L259.0,124.42 L259.5,124.80 L260.0,124.78 L260.5,124.36 L261.0,125.08 L261.5,124.36 L262.0,124.47 L262.5,123.50 L263.0,123.58 L263.5,124.66 L264.0,124.97 L264.5,124.62 L265.0,125.04 L265.5,125.10 L266.0,125.53 L266.5,125.57 L267.0,126.26 L267.5,127.24 L268.0,127.27 L268.5,127.80 L269.0,127.81 L269.5,128.04 L270.0,128.07 L270.5,127.65 L271.0,127.87 L271.5,127.80 L272.0,128.16 L272.5,127.73 L273.0,128.12 L273.5,128.20 L274.0,128.18 L274.5,128.17 L275.0,127.70 L275.5,127.77 L276.0,127.63 L276.5,127.73 L277.0,128.04 L277.5,128.30 L278.0,128.01 L278.5,128.30 L279.0,127.74 L279.5,127.77 L280.0,127.84 L280.5,128.21 L281.0,127.73 L281.5,127.71 L282.0,127.64 L282.5,128.30 L283.0,127.92 L283.5,127.75 L284.0,128.15 L284.5,128.23 L285.0,128.30 L285.5,128.25 L286.0,127.98 L286.5,127.63 L287.0,127.67 L287.5,127.79 L288.0,128.30 L288.5,127.72 L289.0,128.01 L289.5,128.15 L290.0,127.63 L290.5,128.30 L291.0,128.00 L291.5,128.24 L292.0,127.75 L292.5,127.78 L293.0,127.68 L293.5,128.03 L294.0,128.16 L294.5,128.30 L295.0,127.95 L295.5,127.63 L296.0,128.30 L296.5,127.91 L297.0,128.05 L297.5,128.28 L298.0,127.67 L298.5,127.65 L299.0,127.86 L299.5,127.88 L300.0,128.01 L300.5,128.30 L301.0,127.80 L301.5,128.12 L302.0,127.88 L302.5,127.89 L303.0,127.80 L303.5,127.71 L304.0,127.64 L304.5,128.25 L305.0,128.20 L305.5,127.60 L306.0,128.30 L306.5,128.01 L307.0,128.30 L307.5,128.16 L308.0,128.17 L308.5,127.62 L309.0,128.30 L309.5,128.30 L310.0,127.81 L310.5,128.05 L311.0,127.82 L311.5,127.69 L312.0,127.71 L312.5,127.86 L313.0,128.00 L313.5,127.84 L314.0,128.20 L314.5,127.75 L315.0,128.06 L315.5,128.30 L316.0,127.67 L316.5,128.07 L317.0,128.04 L317.5,127.92 L318.0,127.96 L318.5,127.85 L319.0,128.00 L319.5,127.58 L320.0,127.93 L320.5,128.07 L321.0,127.90 L321.5,127.72 L322.0,126.71 L322.5,126.17 L323.0,126.67 L323.5,125.93 L324.0,125.71 L324.5,124.84 L325.0,126.13 L325.5,125.63 L326.0,126.23 L326.5,125.31 L327.0,126.18 L327.5,126.51 L328.0,125.94 L328.5,127.02 L329.0,126.80 L329.5,126.58 L330.0,126.07 L330.5,125.78 L331.0,125.26 L331.5,125.01 L332.0,125.60 L332.5,124.98 L333.0,125.34 L333.5,124.59 L334.0,125.19 L334.5,124.57 L335.0,125.65 L335.5,125.84 L336.0,125.70 L336.5,126.28 L337.0,127.16 L337.5,126.93 L338.0,127.56 L338.5,127.80 L339.0,127.57 L339.5,127.82 L340.0,128.16 L340.5,128.10 L341.0,127.66 L341.5,128.14 L342.0,128.03 L342.5,127.63 L343.0,127.01 L343.5,126.82 L344.0,126.64 L344.5,126.03 L345.0,125.69 L345.5,125.25 L346.0,124.71 L346.5,124.14 L347.0,125.10 L347.5,124.70 L348.0,124.28 L348.5,124.32 L349.0,125.56 L349.5,126.40 L350.0,126.66 L350.5,127.09 L351.0,127.55 L351.5,127.43 L352.0,127.59 L352.5,128.15 L353.0,127.66 L353.5,128.10 L354.0,127.61 L354.5,127.81 L355.0,128.30 L355.5,127.95 L356.0,127.91 L356.5,128.19 L357.0,127.63 L357.5,127.89 L358.0,127.92 L358.5,128.30 L359.0,127.86 L359.5,127.82 L360.0,127.86 L360.5,127.83 L361.0,128.09 L361.5,128.30 L362.0,128.30 L362.5,128.22 L363.0,127.82 L363.5,127.83 L364.0,128.27 L364.5,128.08 L365.0,128.01 L365.5,128.30 L366.0,128.17 L366.5,127.65 L367.0,127.94 L367.5,128.02 L368.0,127.72 L368.5,127.78 L369.0,128.05 L369.5,127.60 L370.0,128.30 L370.5,127.91 L371.0,128.30 L371.5,128.20 L372.0,128.19 L372.5,127.91 L373.0,128.30 L373.5,128.13 L374.0,128.30 L374.5,127.97 L375.0,128.30 L375,128.3 Z" fill="#5d9bd6" opacity="0.95"/>
<rect x="340" y="43.5" width="14.7" height="86.5" fill="#c88e80" opacity="0.5"/>
<text x="6.9" y="160.8" font-size="11.6" text-anchor="start" fill="#000" font-weight="bold" >C</text>
<text x="14.6" y="182.3" font-size="8.3" text-anchor="start" fill="#231f20" font-weight="normal" textLength="18.4" lengthAdjust="spacingAndGlyphs" >gene</text>
<path d="M60,172.5 H56.4" stroke="#231f20" stroke-width="0.75"/><path d="M54.9,172.5 l2.3,-1.25 v2.5 z" fill="#231f20"/>
<path d="M102.3,172.5 H99.5" stroke="#231f20" stroke-width="0.75"/><path d="M98,172.5 l2.3,-1.25 v2.5 z" fill="#231f20"/>
<rect x="101.2" y="174.25" width="5.799999999999997" height="1.9" fill="#1f3d7a"/>
<path d="M73,179.5 H76.2" stroke="#231f20" stroke-width="0.75"/><path d="M77.7,179.5 l-2.3,-1.25 v2.5 z" fill="#231f20"/>
<path d="M83.8,179.5 H80.5" stroke="#231f20" stroke-width="0.75"/><path d="M79,179.5 l2.3,-1.25 v2.5 z" fill="#231f20"/>
<path d="M105.4,179.5 H116.2" stroke="#231f20" stroke-width="0.75"/><path d="M117.7,179.5 l-2.3,-1.25 v2.5 z" fill="#231f20"/>
<rect x="66.5" y="181.05" width="8.900000000000006" height="1.9" fill="#1f3d7a"/>
<rect x="106" y="181.05" width="11.200000000000003" height="1.9" fill="#1f3d7a"/>
<rect x="85" y="181.05" width="0.7999999999999972" height="1.9" fill="#1f3d7a"/>
<path d="M57,186.5 H60.0" stroke="#231f20" stroke-width="0.75"/><path d="M61.5,186.5 l-2.3,-1.25 v2.5 z" fill="#231f20"/>
<path d="M91.5,186.5 H96.2" stroke="#231f20" stroke-width="0.75"/><path d="M97.7,186.5 l-2.3,-1.25 v2.5 z" fill="#231f20"/>
<rect x="80.3" y="188.05" width="17.700000000000003" height="1.9" fill="#1f3d7a"/>
<text x="106.2" y="193.4" font-size="8.3" text-anchor="start" fill="#231f20" font-weight="normal" textLength="25.5" lengthAdjust="spacingAndGlyphs" >RBM38</text>
<path d="M193.5,186.5 H173.5" stroke="#231f20" stroke-width="0.75"/><path d="M172,186.5 l2.3,-1.25 v2.5 z" fill="#231f20"/>
<rect x="173" y="187.75" width="18.5" height="2.1" fill="#1f3d7a"/>
<rect x="214" y="188.05" width="3.6999999999999886" height="1.9" fill="#1f3d7a"/>
<path d="M217,186.5 H220.0" stroke="#231f20" stroke-width="0.75"/><path d="M221.5,186.5 l-2.3,-1.25 v2.5 z" fill="#231f20"/>
<text x="170" y="201.5" font-size="8.3" text-anchor="start" fill="#231f20" font-weight="normal" textLength="23.8" lengthAdjust="spacingAndGlyphs" >CTCFL</text>
<text transform="translate(23.6,236) rotate(-90)" font-size="8.2" text-anchor="middle" fill="#231f20" textLength="38.5" lengthAdjust="spacingAndGlyphs">-log2(q-val)</text>
<rect x="114.7" y="199" width="7.9" height="68.3" fill="#e0b4ac" opacity="0.85"/>
<path d="M48.8,230.4 V228.8 M49.4,230.4 V228.8 M50.1,230.4 V229.1 M50.7,230.4 V228.5 M51.4,230.4 V229.5 M52.0,230.4 V229.8 M52.7,230.4 V228.5 M53.3,230.4 V228.7 M54.0,230.4 V229.6 M54.6,230.4 V229.5 M55.3,230.4 V228.6 M55.9,230.4 V229.0 M56.6,230.4 V228.5 M57.2,230.4 V228.5 M57.9,230.4 V229.6 M58.5,230.4 V229.4 M59.2,230.4 V228.9 M59.8,230.4 V228.7 M60.5,230.4 V229.1 M61.1,230.4 V228.4 M61.8,230.4 V228.6 M62.4,230.4 V229.3 M63.1,230.4 V229.7 M63.7,230.4 V229.5 M64.4,230.4 V228.5 M65.0,230.4 V229.1 M65.7,230.4 V228.7 M66.3,230.4 V229.7 M67.0,230.4 V229.3 M67.6,230.4 V229.3 M68.3,230.4 V229.3 M69.0,230.4 V229.7 M69.6,230.4 V228.4 M70.3,230.4 V228.4 M70.9,230.4 V229.4 M71.6,230.4 V229.0 M72.2,230.4 V228.5 M72.9,230.4 V228.5 M73.5,230.4 V228.2 M74.2,230.4 V229.3 M74.8,230.4 V228.4 M75.5,230.4 V228.0 M76.1,230.4 V228.4 M76.8,230.4 V228.4 M77.4,230.4 V229.0 M78.1,230.4 V227.1 M78.7,230.4 V228.4 M79.4,230.4 V227.9 M80.0,230.4 V227.6 M80.7,230.4 V227.1 M81.3,230.4 V227.5 M82.0,230.4 V227.0 M82.6,230.4 V227.0 M83.3,230.4 V227.4 M83.9,230.4 V227.3 M84.6,230.4 V225.5 M85.2,230.4 V226.8 M85.9,230.4 V225.6 M86.5,230.4 V224.8 M87.2,230.4 V224.7 M87.8,230.4 V227.0 M88.5,230.4 V226.1 M89.1,230.4 V226.0 M89.8,230.4 V225.8 M90.4,230.4 V225.6 M91.1,230.4 V226.4 M91.7,230.4 V226.5 M92.4,230.4 V225.8 M93.0,230.4 V227.1 M93.7,230.4 V228.0 M94.3,230.4 V228.1 M95.0,230.4 V226.6 M95.6,230.4 V226.5 M96.3,230.4 V226.5 M96.9,230.4 V226.8 M97.6,230.4 V227.2 M98.2,230.4 V224.4 M98.9,230.4 V220.4 M99.5,230.4 V220.4 M100.2,230.4 V224.0 M100.8,230.4 V214.5 M101.5,230.4 V218.9 M102.1,230.4 V215.3 M102.8,230.4 V208.9 M103.4,230.4 V210.8 M104.1,230.4 V209.2 M104.7,230.4 V205.4 M105.4,230.4 V214.0 M106.0,230.4 V215.5 M106.7,230.4 V220.7 M107.3,230.4 V224.9 M108.0,230.4 V225.0 M108.6,230.4 V227.6 M109.3,230.4 V224.7 M109.9,230.4 V228.1 M110.6,230.4 V227.7 M111.2,230.4 V227.2 M111.9,230.4 V228.0 M112.5,230.4 V227.9 M113.2,230.4 V227.5 M113.8,230.4 V226.4 M114.5,230.4 V227.4 M115.1,230.4 V224.4 M115.8,230.4 V224.2 M116.4,230.4 V223.5 M117.1,230.4 V222.1 M117.7,230.4 V222.4 M118.4,230.4 V222.7 M119.0,230.4 V223.3 M119.7,230.4 V222.8 M120.3,230.4 V225.4 M121.0,230.4 V227.2 M121.6,230.4 V226.4 M122.3,230.4 V226.1 M122.9,230.4 V228.2 M123.6,230.4 V227.2 M124.2,230.4 V228.4 M124.9,230.4 V227.9 M125.5,230.4 V228.1 M126.2,230.4 V228.7 M126.8,230.4 V229.2 M127.5,230.4 V229.3 M128.1,230.4 V228.3 M128.8,230.4 V228.9 M129.4,230.4 V228.6 M130.1,230.4 V229.3 M130.7,230.4 V228.6 M131.4,230.4 V228.2 M132.0,230.4 V228.6 M132.7,230.4 V228.3 M133.3,230.4 V228.9 M134.0,230.4 V228.4 M134.6,230.4 V228.5 M135.3,230.4 V228.6 M135.9,230.4 V228.1 M136.6,230.4 V228.8 M137.2,230.4 V229.3 M137.9,230.4 V228.6 M138.5,230.4 V227.6 M139.2,230.4 V228.5 M139.8,230.4 V228.8 M140.5,230.4 V228.6 M141.1,230.4 V227.7 M141.8,230.4 V227.8 M142.4,230.4 V228.0 M143.1,230.4 V228.9 M143.7,230.4 V229.2 M144.4,230.4 V227.8 M145.0,230.4 V227.7 M145.7,230.4 V228.3 M146.3,230.4 V229.0 M147.0,230.4 V227.8 M147.6,230.4 V228.8 M148.3,230.4 V228.8 M148.9,230.4 V228.1 M149.6,230.4 V227.4 M150.2,230.4 V227.6 M150.9,230.4 V228.2 M151.5,230.4 V228.3 M152.2,230.4 V229.1 M152.8,230.4 V227.6 M153.5,230.4 V228.4 M154.1,230.4 V227.6 M154.8,230.4 V228.2 M155.4,230.4 V228.1 M156.1,230.4 V229.4 M156.7,230.4 V228.9 M157.4,230.4 V227.7 M158.0,230.4 V229.3 M158.7,230.4 V227.6 M159.3,230.4 V229.2 M160.0,230.4 V229.1 M160.6,230.4 V229.1 M161.3,230.4 V228.3 M161.9,230.4 V228.4 M162.6,230.4 V229.1 M163.2,230.4 V227.8 M163.9,230.4 V229.3 M164.5,230.4 V228.3 M165.2,230.4 V227.9 M165.8,230.4 V228.5 M166.5,230.4 V229.0 M167.1,230.4 V228.2 M167.8,230.4 V228.6 M168.4,230.4 V228.6 M169.1,230.4 V227.3 M169.7,230.4 V226.9 M170.4,230.4 V227.4 M171.0,230.4 V226.9 M171.7,230.4 V225.5 M172.3,230.4 V225.3 M173.0,230.4 V225.1 M173.6,230.4 V225.7 M174.3,230.4 V226.3 M174.9,230.4 V228.8 M175.6,230.4 V227.7 M176.2,230.4 V227.5 M176.9,230.4 V229.2 M177.5,230.4 V227.5 M178.2,230.4 V228.9 M178.8,230.4 V229.5 M179.5,230.4 V228.3 M180.1,230.4 V229.3 M180.8,230.4 V228.3 M181.4,230.4 V229.2 M182.1,230.4 V229.0 M182.7,230.4 V228.3 M183.4,230.4 V228.7 M184.0,230.4 V229.0 M184.7,230.4 V229.5 M185.3,230.4 V228.4 M186.0,230.4 V229.3 M186.6,230.4 V229.2 M187.3,230.4 V229.2 M187.9,230.4 V228.5 M188.6,230.4 V229.1 M189.2,230.4 V229.0 M189.9,230.4 V229.6 M190.5,230.4 V229.4 M191.2,230.4 V228.8 M191.8,230.4 V228.6 M192.5,230.4 V229.1 M193.1,230.4 V229.2 M193.8,230.4 V229.3 M194.4,230.4 V228.8 M195.1,230.4 V228.6 M195.7,230.4 V228.8 M196.4,230.4 V229.2 M197.0,230.4 V229.0 M197.7,230.4 V229.7 M198.3,230.4 V228.7 M199.0,230.4 V228.5 M199.6,230.4 V229.7 M200.3,230.4 V228.4 M200.9,230.4 V228.6 M201.6,230.4 V229.5 M202.2,230.4 V229.4 M202.9,230.4 V229.2 M203.5,230.4 V229.5 M204.2,230.4 V228.5 M204.8,230.4 V229.6 M205.5,230.4 V228.8 M206.1,230.4 V229.5 M206.8,230.4 V228.9 M207.4,230.4 V228.9 M208.1,230.4 V229.7 M208.7,230.4 V228.6 M209.4,230.4 V229.2 M210.0,230.4 V229.4 M210.7,230.4 V228.4 M211.3,230.4 V229.6 M212.0,230.4 V229.5 M212.6,230.4 V228.9 M213.3,230.4 V229.7 M213.9,230.4 V228.5 M214.6,230.4 V228.9 M215.2,230.4 V228.8 M215.9,230.4 V229.7 M216.5,230.4 V229.7 M217.2,230.4 V229.7" stroke="#c42a3c" stroke-width="0.8" opacity="0.92" fill="none"/>
<path d="M48.8,230.4 V228.6 M49.4,230.4 V228.2 M50.1,230.4 V229.8 M50.7,230.4 V229.1 M51.4,230.4 V229.4 M52.0,230.4 V229.0 M52.7,230.4 V229.0 M53.3,230.4 V229.2 M54.0,230.4 V229.2 M54.6,230.4 V229.4 M55.3,230.4 V229.2 M55.9,230.4 V229.2 M56.6,230.4 V229.1 M57.2,230.4 V229.2 M57.9,230.4 V228.8 M58.5,230.4 V229.9 M59.2,230.4 V229.6 M59.8,230.4 V229.6 M60.5,230.4 V229.4 M61.1,230.4 V229.3 M61.8,230.4 V228.8 M62.4,230.4 V229.3 M63.1,230.4 V228.6 M63.7,230.4 V228.2 M64.4,230.4 V228.5 M65.0,230.4 V228.8 M65.7,230.4 V229.6 M66.3,230.4 V229.7 M67.0,230.4 V229.1 M67.6,230.4 V229.7 M68.3,230.4 V229.5 M69.0,230.4 V229.8 M69.6,230.4 V228.6 M70.3,230.4 V229.0 M70.9,230.4 V229.7 M71.6,230.4 V228.9 M72.2,230.4 V229.0 M72.9,230.4 V229.4 M73.5,230.4 V228.8 M74.2,230.4 V228.5 M74.8,230.4 V229.5 M75.5,230.4 V228.7 M76.1,230.4 V228.4 M76.8,230.4 V228.2 M77.4,230.4 V228.6 M78.1,230.4 V228.7 M78.7,230.4 V228.0 M79.4,230.4 V228.1 M80.0,230.4 V229.4 M80.7,230.4 V227.0 M81.3,230.4 V227.4 M82.0,230.4 V227.9 M82.6,230.4 V227.2 M83.3,230.4 V228.7 M83.9,230.4 V229.0 M84.6,230.4 V227.2 M85.2,230.4 V226.6 M85.9,230.4 V225.5 M86.5,230.4 V228.4 M87.2,230.4 V224.7 M87.8,230.4 V226.5 M88.5,230.4 V227.9 M89.1,230.4 V226.1 M89.8,230.4 V227.5 M90.4,230.4 V227.5 M91.1,230.4 V226.7 M91.7,230.4 V225.5 M92.4,230.4 V228.2 M93.0,230.4 V225.8 M93.7,230.4 V226.5 M94.3,230.4 V228.0 M95.0,230.4 V226.9 M95.6,230.4 V225.5 M96.3,230.4 V223.5 M96.9,230.4 V226.6 M97.6,230.4 V227.0 M98.2,230.4 V225.2 M98.9,230.4 V225.1 M99.5,230.4 V221.3 M100.2,230.4 V225.2 M100.8,230.4 V220.4 M101.5,230.4 V219.6 M102.1,230.4 V210.9 M102.8,230.4 V206.7 M103.4,230.4 V205.4 M104.1,230.4 V207.6 M104.7,230.4 V215.3 M105.4,230.4 V207.4 M106.0,230.4 V216.8 M106.7,230.4 V221.5 M107.3,230.4 V224.9 M108.0,230.4 V226.9 M108.6,230.4 V227.1 M109.3,230.4 V227.4 M109.9,230.4 V227.8 M110.6,230.4 V227.9 M111.2,230.4 V227.0 M111.9,230.4 V228.8 M112.5,230.4 V228.5 M113.2,230.4 V227.9 M113.8,230.4 V226.3 M114.5,230.4 V227.0 M115.1,230.4 V225.2 M115.8,230.4 V226.2 M116.4,230.4 V225.0 M117.1,230.4 V225.5 M117.7,230.4 V220.0 M118.4,230.4 V224.7 M119.0,230.4 V226.6 M119.7,230.4 V224.6 M120.3,230.4 V224.3 M121.0,230.4 V226.8 M121.6,230.4 V227.4 M122.3,230.4 V227.5 M122.9,230.4 V228.2 M123.6,230.4 V227.1 M124.2,230.4 V228.0 M124.9,230.4 V228.8 M125.5,230.4 V229.3 M126.2,230.4 V229.4 M126.8,230.4 V228.9 M127.5,230.4 V228.4 M128.1,230.4 V229.2 M128.8,230.4 V228.1 M129.4,230.4 V227.9 M130.1,230.4 V228.5 M130.7,230.4 V228.5 M131.4,230.4 V229.0 M132.0,230.4 V228.9 M132.7,230.4 V229.1 M133.3,230.4 V229.5 M134.0,230.4 V229.3 M134.6,230.4 V228.9 M135.3,230.4 V229.4 M135.9,230.4 V228.4 M136.6,230.4 V228.4 M137.2,230.4 V228.9 M137.9,230.4 V228.2 M138.5,230.4 V228.9 M139.2,230.4 V228.0 M139.8,230.4 V228.8 M140.5,230.4 V228.7 M141.1,230.4 V228.9 M141.8,230.4 V228.9 M142.4,230.4 V228.8 M143.1,230.4 V229.2 M143.7,230.4 V229.3 M144.4,230.4 V228.9 M145.0,230.4 V228.1 M145.7,230.4 V228.2 M146.3,230.4 V228.9 M147.0,230.4 V228.4 M147.6,230.4 V228.3 M148.3,230.4 V228.6 M148.9,230.4 V228.6 M149.6,230.4 V229.1 M150.2,230.4 V228.8 M150.9,230.4 V228.5 M151.5,230.4 V229.0 M152.2,230.4 V227.7 M152.8,230.4 V227.8 M153.5,230.4 V228.0 M154.1,230.4 V227.6 M154.8,230.4 V228.4 M155.4,230.4 V228.1 M156.1,230.4 V228.9 M156.7,230.4 V228.4 M157.4,230.4 V228.4 M158.0,230.4 V228.5 M158.7,230.4 V228.1 M159.3,230.4 V228.0 M160.0,230.4 V228.9 M160.6,230.4 V229.1 M161.3,230.4 V229.1 M161.9,230.4 V228.4 M162.6,230.4 V229.3 M163.2,230.4 V228.0 M163.9,230.4 V229.3 M164.5,230.4 V228.5 M165.2,230.4 V227.4 M165.8,230.4 V227.8 M166.5,230.4 V229.2 M167.1,230.4 V229.3 M167.8,230.4 V226.9 M168.4,230.4 V228.0 M169.1,230.4 V227.0 M169.7,230.4 V228.9 M170.4,230.4 V228.8 M171.0,230.4 V225.6 M171.7,230.4 V226.8 M172.3,230.4 V224.8 M173.0,230.4 V226.7 M173.6,230.4 V226.6 M174.3,230.4 V227.2 M174.9,230.4 V227.7 M175.6,230.4 V228.4 M176.2,230.4 V228.4 M176.9,230.4 V229.5 M177.5,230.4 V229.0 M178.2,230.4 V229.3 M178.8,230.4 V229.1 M179.5,230.4 V229.3 M180.1,230.4 V229.3 M180.8,230.4 V228.6 M181.4,230.4 V228.8 M182.1,230.4 V228.7 M182.7,230.4 V228.8 M183.4,230.4 V228.5 M184.0,230.4 V229.3 M184.7,230.4 V229.4 M185.3,230.4 V228.3 M186.0,230.4 V229.1 M186.6,230.4 V228.2 M187.3,230.4 V228.8 M187.9,230.4 V229.0 M188.6,230.4 V229.0 M189.2,230.4 V228.4 M189.9,230.4 V228.7 M190.5,230.4 V228.2 M191.2,230.4 V229.1 M191.8,230.4 V228.6 M192.5,230.4 V229.7 M193.1,230.4 V228.6 M193.8,230.4 V228.8 M194.4,230.4 V229.5 M195.1,230.4 V229.2 M195.7,230.4 V229.4 M196.4,230.4 V229.7 M197.0,230.4 V228.9 M197.7,230.4 V229.2 M198.3,230.4 V229.8 M199.0,230.4 V229.4 M199.6,230.4 V228.9 M200.3,230.4 V229.0 M200.9,230.4 V229.4 M201.6,230.4 V229.3 M202.2,230.4 V229.1 M202.9,230.4 V229.4 M203.5,230.4 V228.9 M204.2,230.4 V229.4 M204.8,230.4 V229.9 M205.5,230.4 V229.5 M206.1,230.4 V229.6 M206.8,230.4 V229.7 M207.4,230.4 V228.6 M208.1,230.4 V229.0 M208.7,230.4 V229.2 M209.4,230.4 V229.2 M210.0,230.4 V228.4 M210.7,230.4 V228.6 M211.3,230.4 V229.5 M212.0,230.4 V228.6 M212.6,230.4 V229.3 M213.3,230.4 V229.8 M213.9,230.4 V229.6 M214.6,230.4 V229.3 M215.2,230.4 V228.3 M215.9,230.4 V229.5 M216.5,230.4 V229.3 M217.2,230.4 V229.7" stroke="#4e62a8" stroke-width="0.8" opacity="0.78" fill="none"/>
<path d="M48.3,203.2 V230.4 H217.8" stroke="#231f20" stroke-width="1.1" fill="none"/>
<path d="M48.3,230.6 H217.8" stroke="#1b2a55" stroke-width="1.3" fill="none"/>
<path d="M45.2,205.7 H48.3 M45.2,218.4 H48.3 M45.2,230.4 H48.3 M46.3,212.05 H48.3 M46.3,224.4 H48.3 M46.3,203.7 H48.3" stroke="#231f20" stroke-width="0.9"/>
<path d="M95.6,230.4 V233.4 M127.4,230.4 V233.4 M159,230.4 V233.4 M189.7,230.4 V233.4" stroke="#231f20" stroke-width="0.9"/>
<text x="43.6" y="208.5" font-size="7.9" text-anchor="end" fill="#231f20" font-weight="normal" textLength="13" lengthAdjust="spacingAndGlyphs" >200</text>
<text x="43.6" y="221.20000000000002" font-size="7.9" text-anchor="end" fill="#231f20" font-weight="normal" textLength="13" lengthAdjust="spacingAndGlyphs" >100</text>
<text x="43.6" y="233.20000000000002" font-size="7.9" text-anchor="end" fill="#231f20" font-weight="normal" >0</text>
<text x="125.7" y="208.89999999999998" font-size="8.3" text-anchor="start" fill="#231f20" font-weight="normal" textLength="19" lengthAdjust="spacingAndGlyphs" >Day0</text>
<path d="M48.8,267.4 V265.9 M49.4,267.4 V266.6 M50.1,267.4 V266.5 M50.7,267.4 V266.5 M51.4,267.4 V265.8 M52.0,267.4 V266.2 M52.7,267.4 V264.9 M53.3,267.4 V265.9 M54.0,267.4 V266.1 M54.6,267.4 V265.8 M55.3,267.4 V266.2 M55.9,267.4 V266.2 M56.6,267.4 V266.5 M57.2,267.4 V266.6 M57.9,267.4 V266.4 M58.5,267.4 V265.6 M59.2,267.4 V266.6 M59.8,267.4 V266.6 M60.5,267.4 V264.9 M61.1,267.4 V265.5 M61.8,267.4 V266.3 M62.4,267.4 V266.5 M63.1,267.4 V266.3 M63.7,267.4 V264.8 M64.4,267.4 V264.9 M65.0,267.4 V266.5 M65.7,267.4 V265.5 M66.3,267.4 V266.0 M67.0,267.4 V265.8 M67.6,267.4 V265.6 M68.3,267.4 V266.0 M69.0,267.4 V265.8 M69.6,267.4 V265.5 M70.3,267.4 V266.5 M70.9,267.4 V265.7 M71.6,267.4 V265.2 M72.2,267.4 V264.8 M72.9,267.4 V265.0 M73.5,267.4 V266.2 M74.2,267.4 V266.4 M74.8,267.4 V264.8 M75.5,267.4 V266.2 M76.1,267.4 V265.7 M76.8,267.4 V265.2 M77.4,267.4 V265.7 M78.1,267.4 V264.5 M78.7,267.4 V264.4 M79.4,267.4 V264.0 M80.0,267.4 V263.5 M80.7,267.4 V264.9 M81.3,267.4 V264.4 M82.0,267.4 V264.2 M82.6,267.4 V265.4 M83.3,267.4 V263.3 M83.9,267.4 V262.4 M84.6,267.4 V262.4 M85.2,267.4 V261.5 M85.9,267.4 V262.0 M86.5,267.4 V262.3 M87.2,267.4 V261.8 M87.8,267.4 V262.5 M88.5,267.4 V263.6 M89.1,267.4 V263.1 M89.8,267.4 V262.3 M90.4,267.4 V263.7 M91.1,267.4 V263.4 M91.7,267.4 V265.6 M92.4,267.4 V265.7 M93.0,267.4 V264.5 M93.7,267.4 V264.6 M94.3,267.4 V264.5 M95.0,267.4 V263.3 M95.6,267.4 V265.4 M96.3,267.4 V264.5 M96.9,267.4 V265.4 M97.6,267.4 V262.1 M98.2,267.4 V262.2 M98.9,267.4 V260.3 M99.5,267.4 V258.0 M100.2,267.4 V252.2 M100.8,267.4 V247.7 M101.5,267.4 V241.1 M102.1,267.4 V245.0 M102.8,267.4 V241.1 M103.4,267.4 V241.1 M104.1,267.4 V241.1 M104.7,267.4 V244.0 M105.4,267.4 V245.7 M106.0,267.4 V253.3 M106.7,267.4 V254.8 M107.3,267.4 V258.5 M108.0,267.4 V261.1 M108.6,267.4 V262.1 M109.3,267.4 V263.2 M109.9,267.4 V262.4 M110.6,267.4 V261.0 M111.2,267.4 V263.2 M111.9,267.4 V262.9 M112.5,267.4 V262.8 M113.2,267.4 V263.6 M113.8,267.4 V262.2 M114.5,267.4 V259.2 M115.1,267.4 V263.2 M115.8,267.4 V255.3 M116.4,267.4 V255.5 M117.1,267.4 V256.9 M117.7,267.4 V260.0 M118.4,267.4 V256.4 M119.0,267.4 V262.5 M119.7,267.4 V258.3 M120.3,267.4 V255.8 M121.0,267.4 V262.7 M121.6,267.4 V262.8 M122.3,267.4 V262.3 M122.9,267.4 V261.5 M123.6,267.4 V261.8 M124.2,267.4 V265.1 M124.9,267.4 V263.7 M125.5,267.4 V264.1 M126.2,267.4 V263.1 M126.8,267.4 V265.5 M127.5,267.4 V265.0 M128.1,267.4 V264.3 M128.8,267.4 V265.2 M129.4,267.4 V264.0 M130.1,267.4 V265.2 M130.7,267.4 V264.5 M131.4,267.4 V266.0 M132.0,267.4 V265.3 M132.7,267.4 V265.7 M133.3,267.4 V265.5 M134.0,267.4 V264.0 M134.6,267.4 V265.8 M135.3,267.4 V264.8 M135.9,267.4 V264.0 M136.6,267.4 V264.8 M137.2,267.4 V264.3 M137.9,267.4 V265.3 M138.5,267.4 V265.2 M139.2,267.4 V265.1 M139.8,267.4 V264.3 M140.5,267.4 V265.8 M141.1,267.4 V264.2 M141.8,267.4 V265.3 M142.4,267.4 V265.3 M143.1,267.4 V263.6 M143.7,267.4 V264.7 M144.4,267.4 V265.3 M145.0,267.4 V265.8 M145.7,267.4 V263.6 M146.3,267.4 V264.1 M147.0,267.4 V263.8 M147.6,267.4 V265.0 M148.3,267.4 V264.2 M148.9,267.4 V264.2 M149.6,267.4 V264.7 M150.2,267.4 V264.9 M150.9,267.4 V264.0 M151.5,267.4 V264.4 M152.2,267.4 V264.7 M152.8,267.4 V265.4 M153.5,267.4 V263.8 M154.1,267.4 V263.8 M154.8,267.4 V265.5 M155.4,267.4 V263.9 M156.1,267.4 V263.0 M156.7,267.4 V265.6 M157.4,267.4 V265.0 M158.0,267.4 V264.6 M158.7,267.4 V264.5 M159.3,267.4 V264.3 M160.0,267.4 V263.6 M160.6,267.4 V264.4 M161.3,267.4 V264.1 M161.9,267.4 V264.0 M162.6,267.4 V264.3 M163.2,267.4 V265.4 M163.9,267.4 V265.2 M164.5,267.4 V264.6 M165.2,267.4 V264.2 M165.8,267.4 V264.1 M166.5,267.4 V264.6 M167.1,267.4 V263.5 M167.8,267.4 V265.8 M168.4,267.4 V264.0 M169.1,267.4 V262.8 M169.7,267.4 V263.1 M170.4,267.4 V262.9 M171.0,267.4 V262.0 M171.7,267.4 V258.8 M172.3,267.4 V259.9 M173.0,267.4 V262.0 M173.6,267.4 V263.1 M174.3,267.4 V260.9 M174.9,267.4 V264.2 M175.6,267.4 V264.6 M176.2,267.4 V264.8 M176.9,267.4 V264.6 M177.5,267.4 V264.3 M178.2,267.4 V265.7 M178.8,267.4 V264.5 M179.5,267.4 V265.4 M180.1,267.4 V265.8 M180.8,267.4 V264.5 M181.4,267.4 V266.3 M182.1,267.4 V265.5 M182.7,267.4 V265.4 M183.4,267.4 V265.9 M184.0,267.4 V265.5 M184.7,267.4 V266.3 M185.3,267.4 V265.7 M186.0,267.4 V264.7 M186.6,267.4 V265.8 M187.3,267.4 V266.3 M187.9,267.4 V266.1 M188.6,267.4 V266.1 M189.2,267.4 V265.0 M189.9,267.4 V264.9 M190.5,267.4 V265.1 M191.2,267.4 V265.7 M191.8,267.4 V266.1 M192.5,267.4 V265.8 M193.1,267.4 V265.3 M193.8,267.4 V265.1 M194.4,267.4 V265.5 M195.1,267.4 V265.9 M195.7,267.4 V266.5 M196.4,267.4 V266.5 M197.0,267.4 V265.7 M197.7,267.4 V266.4 M198.3,267.4 V265.1 M199.0,267.4 V265.7 M199.6,267.4 V264.9 M200.3,267.4 V266.2 M200.9,267.4 V266.2 M201.6,267.4 V265.9 M202.2,267.4 V266.1 M202.9,267.4 V266.5 M203.5,267.4 V265.2 M204.2,267.4 V264.9 M204.8,267.4 V265.5 M205.5,267.4 V265.9 M206.1,267.4 V266.3 M206.8,267.4 V265.6 M207.4,267.4 V265.8 M208.1,267.4 V264.8 M208.7,267.4 V266.2 M209.4,267.4 V265.8 M210.0,267.4 V265.5 M210.7,267.4 V265.1 M211.3,267.4 V265.1 M212.0,267.4 V265.8 M212.6,267.4 V266.2 M213.3,267.4 V265.7 M213.9,267.4 V266.5 M214.6,267.4 V265.3 M215.2,267.4 V264.9 M215.9,267.4 V265.9 M216.5,267.4 V265.2 M217.2,267.4 V265.8" stroke="#c42a3c" stroke-width="0.8" opacity="0.92" fill="none"/>
<path d="M48.8,267.4 V266.7 M49.4,267.4 V266.1 M50.1,267.4 V266.9 M50.7,267.4 V266.6 M51.4,267.4 V266.7 M52.0,267.4 V266.8 M52.7,267.4 V266.6 M53.3,267.4 V266.3 M54.0,267.4 V266.3 M54.6,267.4 V267.0 M55.3,267.4 V266.6 M55.9,267.4 V266.4 M56.6,267.4 V266.3 M57.2,267.4 V266.6 M57.9,267.4 V266.2 M58.5,267.4 V266.7 M59.2,267.4 V266.5 M59.8,267.4 V266.5 M60.5,267.4 V266.5 M61.1,267.4 V266.2 M61.8,267.4 V266.8 M62.4,267.4 V266.4 M63.1,267.4 V266.4 M63.7,267.4 V266.1 M64.4,267.4 V266.9 M65.0,267.4 V266.0 M65.7,267.4 V266.3 M66.3,267.4 V266.0 M67.0,267.4 V266.9 M67.6,267.4 V266.1 M68.3,267.4 V266.6 M69.0,267.4 V267.0 M69.6,267.4 V266.4 M70.3,267.4 V266.8 M70.9,267.4 V267.0 M71.6,267.4 V266.3 M72.2,267.4 V266.9 M72.9,267.4 V266.5 M73.5,267.4 V266.4 M74.2,267.4 V266.4 M74.8,267.4 V266.8 M75.5,267.4 V266.9 M76.1,267.4 V266.6 M76.8,267.4 V266.3 M77.4,267.4 V266.0 M78.1,267.4 V266.0 M78.7,267.4 V266.6 M79.4,267.4 V266.4 M80.0,267.4 V266.2 M80.7,267.4 V266.6 M81.3,267.4 V265.8 M82.0,267.4 V265.8 M82.6,267.4 V266.1 M83.3,267.4 V265.7 M83.9,267.4 V265.5 M84.6,267.4 V265.5 M85.2,267.4 V265.2 M85.9,267.4 V265.6 M86.5,267.4 V264.5 M87.2,267.4 V263.9 M87.8,267.4 V265.3 M88.5,267.4 V265.5 M89.1,267.4 V264.8 M89.8,267.4 V264.8 M90.4,267.4 V264.7 M91.1,267.4 V264.4 M91.7,267.4 V264.5 M92.4,267.4 V265.8 M93.0,267.4 V264.4 M93.7,267.4 V265.7 M94.3,267.4 V265.4 M95.0,267.4 V264.4 M95.6,267.4 V264.9 M96.3,267.4 V264.9 M96.9,267.4 V265.0 M97.6,267.4 V265.0 M98.2,267.4 V264.9 M98.9,267.4 V265.5 M99.5,267.4 V265.4 M100.2,267.4 V263.8 M100.8,267.4 V262.0 M101.5,267.4 V264.1 M102.1,267.4 V262.6 M102.8,267.4 V258.6 M103.4,267.4 V250.9 M104.1,267.4 V244.1 M104.7,267.4 V241.1 M105.4,267.4 V241.1 M106.0,267.4 V241.1 M106.7,267.4 V249.7 M107.3,267.4 V257.7 M108.0,267.4 V260.2 M108.6,267.4 V264.4 M109.3,267.4 V264.0 M109.9,267.4 V265.1 M110.6,267.4 V265.3 M111.2,267.4 V265.4 M111.9,267.4 V265.7 M112.5,267.4 V265.7 M113.2,267.4 V265.1 M113.8,267.4 V264.2 M114.5,267.4 V265.8 M115.1,267.4 V265.3 M115.8,267.4 V265.6 M116.4,267.4 V264.2 M117.1,267.4 V263.2 M117.7,267.4 V264.5 M118.4,267.4 V262.5 M119.0,267.4 V262.8 M119.7,267.4 V262.9 M120.3,267.4 V263.6 M121.0,267.4 V264.9 M121.6,267.4 V264.5 M122.3,267.4 V264.6 M122.9,267.4 V265.0 M123.6,267.4 V266.2 M124.2,267.4 V266.2 M124.9,267.4 V265.8 M125.5,267.4 V266.7 M126.2,267.4 V266.3 M126.8,267.4 V266.5 M127.5,267.4 V266.0 M128.1,267.4 V266.4 M128.8,267.4 V266.1 M129.4,267.4 V266.6 M130.1,267.4 V266.5 M130.7,267.4 V266.5 M131.4,267.4 V266.6 M132.0,267.4 V266.3 M132.7,267.4 V266.0 M133.3,267.4 V266.4 M134.0,267.4 V266.7 M134.6,267.4 V266.6 M135.3,267.4 V266.6 M135.9,267.4 V266.1 M136.6,267.4 V267.0 M137.2,267.4 V266.4 M137.9,267.4 V266.5 M138.5,267.4 V266.2 M139.2,267.4 V266.4 M139.8,267.4 V266.6 M140.5,267.4 V266.7 M141.1,267.4 V266.9 M141.8,267.4 V266.6 M142.4,267.4 V266.9 M143.1,267.4 V266.7 M143.7,267.4 V266.4 M144.4,267.4 V267.0 M145.0,267.4 V266.5 M145.7,267.4 V267.0 M146.3,267.4 V266.3 M147.0,267.4 V266.0 M147.6,267.4 V266.4 M148.3,267.4 V266.3 M148.9,267.4 V266.6 M149.6,267.4 V266.2 M150.2,267.4 V266.2 M150.9,267.4 V266.1 M151.5,267.4 V266.4 M152.2,267.4 V266.8 M152.8,267.4 V266.8 M153.5,267.4 V266.9 M154.1,267.4 V266.5 M154.8,267.4 V266.1 M155.4,267.4 V266.1 M156.1,267.4 V266.9 M156.7,267.4 V266.3 M157.4,267.4 V266.6 M158.0,267.4 V266.6 M158.7,267.4 V266.6 M159.3,267.4 V266.9 M160.0,267.4 V266.0 M160.6,267.4 V266.6 M161.3,267.4 V266.6 M161.9,267.4 V266.6 M162.6,267.4 V266.1 M163.2,267.4 V266.2 M163.9,267.4 V266.3 M164.5,267.4 V266.8 M165.2,267.4 V266.1 M165.8,267.4 V267.0 M166.5,267.4 V266.9 M167.1,267.4 V266.5 M167.8,267.4 V266.5 M168.4,267.4 V266.6 M169.1,267.4 V266.2 M169.7,267.4 V266.2 M170.4,267.4 V266.5 M171.0,267.4 V266.3 M171.7,267.4 V266.7 M172.3,267.4 V266.6 M173.0,267.4 V266.7 M173.6,267.4 V266.4 M174.3,267.4 V266.1 M174.9,267.4 V266.1 M175.6,267.4 V266.5 M176.2,267.4 V266.8 M176.9,267.4 V266.2 M177.5,267.4 V266.5 M178.2,267.4 V266.4 M178.8,267.4 V266.3 M179.5,267.4 V266.3 M180.1,267.4 V266.5 M180.8,267.4 V266.1 M181.4,267.4 V266.2 M182.1,267.4 V266.2 M182.7,267.4 V266.1 M183.4,267.4 V266.7 M184.0,267.4 V266.9 M184.7,267.4 V267.0 M185.3,267.4 V266.9 M186.0,267.4 V266.6 M186.6,267.4 V266.4 M187.3,267.4 V266.1 M187.9,267.4 V266.8 M188.6,267.4 V266.4 M189.2,267.4 V266.1 M189.9,267.4 V266.2 M190.5,267.4 V266.6 M191.2,267.4 V266.4 M191.8,267.4 V266.3 M192.5,267.4 V266.8 M193.1,267.4 V267.0 M193.8,267.4 V266.8 M194.4,267.4 V266.7 M195.1,267.4 V266.1 M195.7,267.4 V266.5 M196.4,267.4 V266.5 M197.0,267.4 V266.9 M197.7,267.4 V266.5 M198.3,267.4 V266.9 M199.0,267.4 V266.7 M199.6,267.4 V266.5 M200.3,267.4 V266.6 M200.9,267.4 V266.3 M201.6,267.4 V266.1 M202.2,267.4 V266.2 M202.9,267.4 V266.2 M203.5,267.4 V266.7 M204.2,267.4 V266.7 M204.8,267.4 V266.1 M205.5,267.4 V266.7 M206.1,267.4 V266.4 M206.8,267.4 V266.5 M207.4,267.4 V266.1 M208.1,267.4 V266.1 M208.7,267.4 V266.2 M209.4,267.4 V266.6 M210.0,267.4 V266.3 M210.7,267.4 V266.5 M211.3,267.4 V266.8 M212.0,267.4 V266.2 M212.6,267.4 V266.4 M213.3,267.4 V266.7 M213.9,267.4 V266.2 M214.6,267.4 V266.3 M215.2,267.4 V266.6 M215.9,267.4 V266.4 M216.5,267.4 V266.6 M217.2,267.4 V266.1" stroke="#4e62a8" stroke-width="0.8" opacity="0.78" fill="none"/>
<path d="M48.3,238.6 V267.4 H217.8" stroke="#231f20" stroke-width="1.1" fill="none"/>
<path d="M48.3,267.59999999999997 H217.8" stroke="#1b2a55" stroke-width="1.3" fill="none"/>
<path d="M45.2,241.1 H48.3 M45.2,254.0 H48.3 M45.2,267.4 H48.3 M46.3,247.55 H48.3 M46.3,260.7 H48.3 M46.3,239.1 H48.3" stroke="#231f20" stroke-width="0.9"/>
<path d="M95.6,267.4 V270.4 M127.4,267.4 V270.4 M159,267.4 V270.4 M189.7,267.4 V270.4" stroke="#231f20" stroke-width="0.9"/>
<text x="43.6" y="243.9" font-size="7.9" text-anchor="end" fill="#231f20" font-weight="normal" textLength="13" lengthAdjust="spacingAndGlyphs" >200</text>
<text x="43.6" y="256.8" font-size="7.9" text-anchor="end" fill="#231f20" font-weight="normal" textLength="13" lengthAdjust="spacingAndGlyphs" >100</text>
<text x="43.6" y="270.2" font-size="7.9" text-anchor="end" fill="#231f20" font-weight="normal" >0</text>
<text x="125.7" y="245.29999999999998" font-size="8.3" text-anchor="start" fill="#231f20" font-weight="normal" textLength="19" lengthAdjust="spacingAndGlyphs" >Day3</text>
<path d="M190.8,208.2 H201.2" stroke="#8895c8" stroke-width="1.2"/><path d="M190.8,218.8 H201.2" stroke="#d05a6a" stroke-width="1.2"/>
<text x="204.7" y="211.0" font-size="8.3" text-anchor="start" fill="#231f20" font-weight="normal" textLength="14" lengthAdjust="spacingAndGlyphs" >mut</text>
<text x="204.7" y="221.6" font-size="8.3" text-anchor="start" fill="#231f20" font-weight="normal" textLength="9" lengthAdjust="spacingAndGlyphs" >wt</text>
<text x="38" y="280.5" font-size="8.3" text-anchor="start" fill="#231f20" font-weight="normal" textLength="20" lengthAdjust="spacingAndGlyphs" >chr20</text>
<text x="95.6" y="280.5" font-size="8.3" text-anchor="middle" fill="#231f20" font-weight="normal" >55.95</text>
<text x="127.4" y="280.5" font-size="8.3" text-anchor="middle" fill="#231f20" font-weight="normal" >56</text>
<text x="159" y="280.5" font-size="8.3" text-anchor="middle" fill="#231f20" font-weight="normal" >56.05</text>
<text x="189.7" y="280.5" font-size="8.3" text-anchor="middle" fill="#231f20" font-weight="normal" >56.1</text>
<text x="223.6" y="280.5" font-size="8.3" text-anchor="end" fill="#231f20" font-weight="normal" >Mb</text>
<text x="240" y="160.4" font-size="11.6" text-anchor="start" fill="#000" font-weight="bold" >D</text>
<text x="253" y="179.5" font-size="8.3" text-anchor="start" fill="#231f20" font-weight="normal" textLength="17.3" lengthAdjust="spacingAndGlyphs" >gene</text>
<path d="M276.7,170.6 V181.4 M274.3,171.0 H276.7 M274.3,173.3 H276.7 M274.3,175.6 H276.7 M274.3,177.9 H276.7 M274.3,180.2 H276.7" stroke="#231f20" stroke-width="0.8" fill="none"/>
<rect x="278" y="178.9" width="3" height="1.2" fill="#6f85bd" opacity="0.8"/><rect x="282.5" y="180.4" width="3.5" height="1.2" fill="#6f85bd" opacity="0.7"/><rect x="289.5" y="178.4" width="1.5" height="1.2" fill="#6f85bd" opacity="0.6"/><rect x="296" y="179.4" width="1.2" height="1.2" fill="#6f85bd" opacity="0.3"/><rect x="307" y="179.9" width="1.5" height="1.2" fill="#6f85bd" opacity="0.3"/><rect x="318" y="180.4" width="1.5" height="1.2" fill="#6f85bd" opacity="0.3"/><rect x="325" y="180.6" width="7.5" height="1.2" fill="#6f85bd" opacity="0.85"/><rect x="335.5" y="178.6" width="3" height="1.2" fill="#6f85bd" opacity="0.7"/><rect x="340.5" y="177.20000000000002" width="2" height="1.2" fill="#6f85bd" opacity="0.6"/><rect x="343" y="175.4" width="1.2" height="1.2" fill="#6f85bd" opacity="0.4"/><rect x="347" y="179.4" width="3.5" height="1.2" fill="#6f85bd" opacity="0.75"/><rect x="352.5" y="181.20000000000002" width="3.5" height="1.2" fill="#6f85bd" opacity="0.8"/><rect x="377" y="180.4" width="2" height="1.2" fill="#6f85bd" opacity="0.35"/><rect x="389" y="180.6" width="2.5" height="1.2" fill="#6f85bd" opacity="0.55"/><rect x="396.5" y="181.20000000000002" width="4.5" height="1.2" fill="#6f85bd" opacity="0.7"/><rect x="402.5" y="180.4" width="4.5" height="1.2" fill="#6f85bd" opacity="0.7"/><rect x="408.5" y="179.4" width="3.5" height="1.2" fill="#6f85bd" opacity="0.65"/><rect x="415.5" y="181.4" width="4" height="1.2" fill="#6f85bd" opacity="0.7"/><rect x="421" y="177.9" width="2.5" height="1.2" fill="#6f85bd" opacity="0.6"/><rect x="428.5" y="179.9" width="1.5" height="1.2" fill="#6f85bd" opacity="0.6"/><rect x="433" y="177.20000000000002" width="1.5" height="1.2" fill="#6f85bd" opacity="0.5"/><rect x="437" y="175.6" width="1.2" height="1.2" fill="#6f85bd" opacity="0.35"/><rect x="440" y="181.4" width="3" height="1.2" fill="#6f85bd" opacity="0.6"/><rect x="447" y="181.4" width="3" height="1.2" fill="#6f85bd" opacity="0.6"/><rect x="317.9" y="175.9" width="1" height="1" fill="#9aaad0" opacity="0.24"/><rect x="380.9" y="176.6" width="1" height="1" fill="#9aaad0" opacity="0.17"/><rect x="279.3" y="178.5" width="1" height="1" fill="#9aaad0" opacity="0.21"/><rect x="317.3" y="180.0" width="1" height="1" fill="#9aaad0" opacity="0.27"/><rect x="420.9" y="175.3" width="1" height="1" fill="#9aaad0" opacity="0.31"/><rect x="302.9" y="176.7" width="1" height="1" fill="#9aaad0" opacity="0.37"/><rect x="367.0" y="177.7" width="1" height="1" fill="#9aaad0" opacity="0.32"/><rect x="288.0" y="177.8" width="1" height="1" fill="#9aaad0" opacity="0.30"/><rect x="328.8" y="171.3" width="1" height="1" fill="#9aaad0" opacity="0.37"/><rect x="358.3" y="177.5" width="1" height="1" fill="#9aaad0" opacity="0.37"/><rect x="399.8" y="179.3" width="1" height="1" fill="#9aaad0" opacity="0.25"/><rect x="414.8" y="175.0" width="1" height="1" fill="#9aaad0" opacity="0.38"/><rect x="428.2" y="171.9" width="1" height="1" fill="#9aaad0" opacity="0.18"/><rect x="314.3" y="179.7" width="1" height="1" fill="#9aaad0" opacity="0.26"/><rect x="384.8" y="173.7" width="1" height="1" fill="#9aaad0" opacity="0.28"/><rect x="343.4" y="174.2" width="1" height="1" fill="#9aaad0" opacity="0.30"/><rect x="377.5" y="179.1" width="1" height="1" fill="#9aaad0" opacity="0.32"/><rect x="436.8" y="178.7" width="1" height="1" fill="#9aaad0" opacity="0.40"/><rect x="392.5" y="172.5" width="1" height="1" fill="#9aaad0" opacity="0.37"/><rect x="442.9" y="179.1" width="1" height="1" fill="#9aaad0" opacity="0.29"/><rect x="399.8" y="172.9" width="1" height="1" fill="#9aaad0" opacity="0.36"/><rect x="375.6" y="173.6" width="1" height="1" fill="#9aaad0" opacity="0.17"/><rect x="423.9" y="179.9" width="1" height="1" fill="#9aaad0" opacity="0.17"/><rect x="414.7" y="174.7" width="1" height="1" fill="#9aaad0" opacity="0.19"/><rect x="327.5" y="177.9" width="1" height="1" fill="#9aaad0" opacity="0.37"/><rect x="284.6" y="176.5" width="1" height="1" fill="#9aaad0" opacity="0.16"/><rect x="400.6" y="174.0" width="1" height="1" fill="#9aaad0" opacity="0.37"/><rect x="445.7" y="175.5" width="1" height="1" fill="#9aaad0" opacity="0.40"/><rect x="330.3" y="171.7" width="1" height="1" fill="#9aaad0" opacity="0.30"/><rect x="282.4" y="172.8" width="1" height="1" fill="#9aaad0" opacity="0.25"/><rect x="382.0" y="172.4" width="1" height="1" fill="#9aaad0" opacity="0.16"/><rect x="426.3" y="173.8" width="1" height="1" fill="#9aaad0" opacity="0.39"/><rect x="431.2" y="174.4" width="1" height="1" fill="#9aaad0" opacity="0.27"/><rect x="366.5" y="176.8" width="1" height="1" fill="#9aaad0" opacity="0.30"/><rect x="373.2" y="176.6" width="1" height="1" fill="#9aaad0" opacity="0.39"/><rect x="364.2" y="174.9" width="1" height="1" fill="#9aaad0" opacity="0.33"/><rect x="317.9" y="173.7" width="1" height="1" fill="#9aaad0" opacity="0.39"/><rect x="366.6" y="175.9" width="1" height="1" fill="#9aaad0" opacity="0.15"/><rect x="348.4" y="176.2" width="1" height="1" fill="#9aaad0" opacity="0.16"/><rect x="382.9" y="176.7" width="1" height="1" fill="#9aaad0" opacity="0.17"/>
<text transform="translate(256.5,202) rotate(-90)" font-size="8.2" text-anchor="middle" fill="#231f20" textLength="38.5" lengthAdjust="spacingAndGlyphs">-log2(q-val)</text>
<text transform="translate(257.2,257.3) rotate(-90)" font-size="8.2" text-anchor="middle" fill="#231f20" textLength="38.5" lengthAdjust="spacingAndGlyphs">-log2(q-val)</text>
<path d="M276.7,191.5 V208.6 M274.3,208.6 H276.7 M274.3,206.2 H276.7 M274.3,203.8 H276.7 M274.3,201.4 H276.7 M274.3,199.0 H276.7 M274.3,196.6 H276.7 M274.3,194.2 H276.7" stroke="#231f20" stroke-width="0.8" fill="none"/>
<text x="270.8" y="197.0" font-size="8.3" text-anchor="end" fill="#231f20" font-weight="normal" textLength="9.3" lengthAdjust="spacingAndGlyphs" >60</text>
<text x="270.8" y="211.2" font-size="8.3" text-anchor="end" fill="#231f20" font-weight="normal" >0</text>
<path d="M277,208.6 Q309.5,200.2 342,208.6" stroke="#c03048" stroke-width="0.9" fill="none" opacity="0.55"/><path d="M284,208.6 Q313.0,201.4 342,208.6" stroke="#c03048" stroke-width="0.9" fill="none" opacity="0.50"/><path d="M292,208.6 Q317.0,202.2 342,208.6" stroke="#c03048" stroke-width="0.9" fill="none" opacity="0.55"/><path d="M302,208.6 Q322.0,203.4 342,208.6" stroke="#c03048" stroke-width="0.9" fill="none" opacity="0.60"/><path d="M318,208.6 Q330.0,205.4 342,208.6" stroke="#c03048" stroke-width="0.9" fill="none" opacity="0.60"/><path d="M342,208.6 Q395.5,200.2 449,208.6" stroke="#c03048" stroke-width="0.9" fill="none" opacity="0.55"/><path d="M342,208.6 Q391.0,201.4 440,208.6" stroke="#c03048" stroke-width="0.9" fill="none" opacity="0.50"/><path d="M342,208.6 Q384.0,202.2 426,208.6" stroke="#c03048" stroke-width="0.9" fill="none" opacity="0.55"/><path d="M342,208.6 Q375.0,203.4 408,208.6" stroke="#c03048" stroke-width="0.9" fill="none" opacity="0.60"/><path d="M342,208.6 Q363.5,205.0 385,208.6" stroke="#c03048" stroke-width="0.9" fill="none" opacity="0.60"/><path d="M342,208.6 Q352.0,206.2 362,208.6" stroke="#c03048" stroke-width="0.9" fill="none" opacity="0.60"/>
<path d="M340.9,208.6 Q341.3,193 341.5,193 Q341.7,193 342.1,208.6" stroke="#a01830" stroke-width="0.9" fill="none"/>
<path d="M276.7,208.8 H449.8" stroke="#6a6a6a" stroke-width="1.2"/>
<path d="M311.7,208.8 V211.4 M342.1,208.8 V211.4 M372.5,208.8 V211.4 M403,208.8 V211.4" stroke="#231f20" stroke-width="0.9"/>
<text x="266" y="222" font-size="8.3" text-anchor="start" fill="#231f20" font-weight="normal" textLength="21" lengthAdjust="spacingAndGlyphs" >chr20</text>
<text x="311.7" y="222" font-size="8.3" text-anchor="middle" fill="#231f20" font-weight="normal" >55.5</text>
<text x="342.1" y="222" font-size="8.3" text-anchor="middle" fill="#231f20" font-weight="normal" >56</text>
<text x="372.5" y="222" font-size="8.3" text-anchor="middle" fill="#231f20" font-weight="normal" >56.5</text>
<text x="403" y="222" font-size="8.3" text-anchor="middle" fill="#231f20" font-weight="normal" >57</text>
<text x="449.8" y="222" font-size="8.3" text-anchor="end" fill="#231f20" font-weight="normal" >Mb</text>
<path d="M426.3,189.8 H436.5" stroke="#8895c8" stroke-width="1.2"/><path d="M426.3,201 H436.5" stroke="#d05a6a" stroke-width="1.2"/>
<text x="439.8" y="192.6" font-size="8.3" text-anchor="start" fill="#231f20" font-weight="normal" textLength="14" lengthAdjust="spacingAndGlyphs" >mut</text>
<text x="439.8" y="203.8" font-size="8.3" text-anchor="start" fill="#231f20" font-weight="normal" textLength="9" lengthAdjust="spacingAndGlyphs" >wt</text>
<path d="M334.8,163.8 V225.6 L276.5,234.2 V248.5" stroke="#c8283c" stroke-width="1.1" stroke-dasharray="1.6,2.2" fill="none"/>
<path d="M351,163.8 V223.6 L449.8,234.2 V267" stroke="#c8283c" stroke-width="1.1" stroke-dasharray="1.6,2.2" fill="none"/>
<path d="M289,226.5 H284.8" stroke="#231f20" stroke-width="0.75"/><path d="M283.3,226.5 l2.3,-1.25 v2.5 z" fill="#231f20"/>
<rect x="295.8" y="232.35000000000002" width="8.599999999999966" height="1.9" fill="#1f3d7a"/>
<path d="M302.5,230.5 H306.5" stroke="#231f20" stroke-width="0.75"/><path d="M308,230.5 l-2.3,-1.25 v2.5 z" fill="#231f20"/>
<path d="M313.5,230.5 H309.8" stroke="#231f20" stroke-width="0.75"/><path d="M308.3,230.5 l2.3,-1.25 v2.5 z" fill="#231f20"/>
<path d="M285.2,236.5 H289.5" stroke="#231f20" stroke-width="0.75"/><path d="M291,236.5 l-2.3,-1.25 v2.5 z" fill="#231f20"/>
<rect x="309.6" y="237.55" width="17.899999999999977" height="1.9" fill="#1f3d7a"/>
<path d="M321.7,236.5 H326.5" stroke="#231f20" stroke-width="0.75"/><path d="M328,236.5 l-2.3,-1.25 v2.5 z" fill="#231f20"/>
<path d="M333,226.5 H329.0" stroke="#231f20" stroke-width="0.75"/><path d="M327.5,226.5 l2.3,-1.25 v2.5 z" fill="#231f20"/>
<rect x="330.6" y="227.25" width="6.399999999999977" height="1.9" fill="#1f3d7a"/>
<path d="M335.4,231.5 H346.4" stroke="#231f20" stroke-width="0.75"/><path d="M347.9,231.5 l-2.3,-1.25 v2.5 z" fill="#231f20"/>
<rect x="335.4" y="232.35000000000002" width="11.600000000000023" height="1.9" fill="#1f3d7a"/>
<text x="328.7" y="242.0" font-size="8.3" text-anchor="start" fill="#231f20" font-weight="normal" textLength="25.9" lengthAdjust="spacingAndGlyphs" >RBM38</text>
<path d="M414,236.5 H407.5" stroke="#231f20" stroke-width="0.75"/><path d="M406,236.5 l2.3,-1.25 v2.5 z" fill="#231f20"/>
<rect x="404" y="237.55" width="18.899999999999977" height="1.9" fill="#1f3d7a"/>
<rect x="446.4" y="237.55" width="3.400000000000034" height="1.9" fill="#1f3d7a"/>
<path d="M449,236.5 H453.5" stroke="#231f20" stroke-width="0.75"/><path d="M455,236.5 l-2.3,-1.25 v2.5 z" fill="#231f20"/>
<text x="401.3" y="249.6" font-size="8.3" text-anchor="start" fill="#231f20" font-weight="normal" textLength="24.3" lengthAdjust="spacingAndGlyphs" >CTCFL</text>
<path d="M276.5,248.5 V267.6 M274.1,267.6 H276.5 M274.1,264.8 H276.5 M274.1,261.9 H276.5 M274.1,259.1 H276.5 M274.1,256.3 H276.5 M274.1,253.4 H276.5 M274.1,250.6 H276.5" stroke="#231f20" stroke-width="0.8" fill="none"/>
<text x="270.8" y="253.4" font-size="8.3" text-anchor="end" fill="#231f20" font-weight="normal" textLength="9.3" lengthAdjust="spacingAndGlyphs" >60</text>
<text x="270.8" y="270" font-size="8.3" text-anchor="end" fill="#231f20" font-weight="normal" >0</text>
<path d="M335.4,267.6 C337.5,245 349,245 351.3,267.6" stroke="#c0283c" stroke-width="0.9" fill="none"/>
<path d="M351.3,244.5 V267.6" stroke="#d04a5a" stroke-width="0.8"/><path d="M349.3,243.4 h4 l-2,3 z" fill="#b01830"/>
<path d="M351.3,267.6 C360,264 430,264.5 440,267.6" stroke="#c0283c" stroke-width="0.7" fill="none" opacity="0.7"/>
<path d="M276.5,268 H449.8" stroke="#6a6a6a" stroke-width="1.2"/>
<path d="M324.6,268 V270.6 M357.5,268 V270.6 M390.2,268 V270.6 M422.5,268 V270.6" stroke="#231f20" stroke-width="0.9"/>
<text x="266" y="280.5" font-size="8.3" text-anchor="start" fill="#231f20" font-weight="normal" textLength="21" lengthAdjust="spacingAndGlyphs" >chr20</text>
<text x="324.6" y="280.5" font-size="8.3" text-anchor="middle" fill="#231f20" font-weight="normal" >55.95</text>
<text x="357.5" y="280.5" font-size="8.3" text-anchor="middle" fill="#231f20" font-weight="normal" >56</text>
<text x="390.2" y="280.5" font-size="8.3" text-anchor="middle" fill="#231f20" font-weight="normal" >56.05</text>
<text x="422.5" y="280.5" font-size="8.3" text-anchor="middle" fill="#231f20" font-weight="normal" >56.1</text>
<text x="449.8" y="280.5" font-size="8.3" text-anchor="end" fill="#231f20" font-weight="normal" >Mb</text>
<g class="e">
<text x="7.3" y="307.7" font-size="11.6" text-anchor="start" fill="#000" font-weight="bold" >E</text>
<rect x="14.4" y="310.2" width="498.1" height="279.8" rx="11" ry="11" fill="#f8f7f6"/>
<defs>
<radialGradient id="pinkg"><stop offset="0" stop-color="#e6b8c2"/><stop offset="0.84" stop-color="#e7bac4"/><stop offset="1" stop-color="#ebc4cc" stop-opacity="0"/></radialGradient>
<linearGradient id="arrg" x1="0" y1="0" x2="1" y2="0"><stop offset="0" stop-color="#c23a5e" stop-opacity="0"/><stop offset="0.55" stop-color="#c23a5e" stop-opacity="0.75"/><stop offset="1" stop-color="#b01c44"/></linearGradient>
<radialGradient id="tfg" cx="0.5" cy="0.5" r="0.5"><stop offset="0" stop-color="#e8e0d4"/><stop offset="0.55" stop-color="#a89070"/><stop offset="1" stop-color="#4a3010"/></radialGradient>
<radialGradient id="ctg" cx="0.5" cy="0.5" r="0.5"><stop offset="0" stop-color="#e8eef6"/><stop offset="0.55" stop-color="#7090c0"/><stop offset="1" stop-color="#1f4a90"/></radialGradient>
</defs>
<defs><g id="knot"><path d="M-0.5,5.5 L-16.5,18 C-22,22.5 -25,26 -25,32 C-25,42 -16,48 -6,48 C6,48 16,40 16.5,30 C16.8,22 12,15 2,3.5" stroke="#222222" stroke-width="6.3" fill="none"/><path d="M-0.5,5.5 L-16.5,18 C-22,22.5 -25,26 -25,32 C-25,42 -16,48 -6,48 C6,48 16,40 16.5,30 C16.8,22 12,15 2,3.5" stroke="#4e4e4e" stroke-width="5.3" fill="none"/><path d="M-0.5,5.5 L-16.5,18 C-22,22.5 -25,26 -25,32 C-25,42 -16,48 -6,48 C6,48 16,40 16.5,30 C16.8,22 12,15 2,3.5" stroke="#747474" stroke-width="4.2" fill="none"/><path d="M-0.5,5.5 L-16.5,18 C-22,22.5 -25,26 -25,32 C-25,42 -16,48 -6,48 C6,48 16,40 16.5,30 C16.8,22 12,15 2,3.5" stroke="#9e9e9e" stroke-width="3.0" fill="none"/><path d="M-0.5,5.5 L-16.5,18 C-22,22.5 -25,26 -25,32 C-25,42 -16,48 -6,48 C6,48 16,40 16.5,30 C16.8,22 12,15 2,3.5" stroke="#c6c6c6" stroke-width="1.8" fill="none"/><path d="M-0.5,5.5 L-16.5,18 C-22,22.5 -25,26 -25,32 C-25,42 -16,48 -6,48 C6,48 16,40 16.5,30 C16.8,22 12,15 2,3.5" stroke="#e8e8e8" stroke-width="0.7" fill="none"/><path d="M2,1.2 C8,2.2 14,5.5 20,9.5 C24,12 28,15 32,17.8" stroke="#222222" stroke-width="6.3" fill="none"/><path d="M2,1.2 C8,2.2 14,5.5 20,9.5 C24,12 28,15 32,17.8" stroke="#4e4e4e" stroke-width="5.3" fill="none"/><path d="M2,1.2 C8,2.2 14,5.5 20,9.5 C24,12 28,15 32,17.8" stroke="#747474" stroke-width="4.2" fill="none"/><path d="M2,1.2 C8,2.2 14,5.5 20,9.5 C24,12 28,15 32,17.8" stroke="#9e9e9e" stroke-width="3.0" fill="none"/><path d="M2,1.2 C8,2.2 14,5.5 20,9.5 C24,12 28,15 32,17.8" stroke="#c6c6c6" stroke-width="1.8" fill="none"/><path d="M2,1.2 C8,2.2 14,5.5 20,9.5 C24,12 28,15 32,17.8" stroke="#e8e8e8" stroke-width="0.7" fill="none"/><path d="M18.2,-1.5 L0,0 C-4,0 -9,-4.4 -14.5,-4.4 C-19.5,-4.4 -22.6,-1 -22.6,2.8 C-22.6,7 -19.5,10 -14.5,10 C-10,10 -6,6.5 -2,3" stroke="#222222" stroke-width="6.3" fill="none"/><path d="M18.2,-1.5 L0,0 C-4,0 -9,-4.4 -14.5,-4.4 C-19.5,-4.4 -22.6,-1 -22.6,2.8 C-22.6,7 -19.5,10 -14.5,10 C-10,10 -6,6.5 -2,3" stroke="#4e4e4e" stroke-width="5.3" fill="none"/><path d="M18.2,-1.5 L0,0 C-4,0 -9,-4.4 -14.5,-4.4 C-19.5,-4.4 -22.6,-1 -22.6,2.8 C-22.6,7 -19.5,10 -14.5,10 C-10,10 -6,6.5 -2,3" stroke="#747474" stroke-width="4.2" fill="none"/><path d="M18.2,-1.5 L0,0 C-4,0 -9,-4.4 -14.5,-4.4 C-19.5,-4.4 -22.6,-1 -22.6,2.8 C-22.6,7 -19.5,10 -14.5,10 C-10,10 -6,6.5 -2,3" stroke="#9e9e9e" stroke-width="3.0" fill="none"/><path d="M18.2,-1.5 L0,0 C-4,0 -9,-4.4 -14.5,-4.4 C-19.5,-4.4 -22.6,-1 -22.6,2.8 C-22.6,7 -19.5,10 -14.5,10 C-10,10 -6,6.5 -2,3" stroke="#c6c6c6" stroke-width="1.8" fill="none"/><path d="M18.2,-1.5 L0,0 C-4,0 -9,-4.4 -14.5,-4.4 C-19.5,-4.4 -22.6,-1 -22.6,2.8 C-22.6,7 -19.5,10 -14.5,10 C-10,10 -6,6.5 -2,3" stroke="#e8e8e8" stroke-width="0.7" fill="none"/><rect x="-2.2" y="-2.8" width="4.4" height="5.4" rx="0.8" fill="#c8955a"/><rect x="-1.3" y="-1.7" width="2.6" height="3.2" fill="#f6efe2"/><g transform="translate(-4.5,4.2) rotate(68)"><path d="M-2.6,-1.1 H2.6 M-2.6,1.1 H2.6" stroke="#cc3a66" stroke-width="1.2"/><path d="M-2.4,0 H2.4" stroke="#eed8de" stroke-width="1"/></g><g transform="translate(5,3.8) rotate(-60)"><path d="M-2.6,-1.1 H2.6 M-2.6,1.1 H2.6" stroke="#cc3a66" stroke-width="1.2"/><path d="M-2.4,0 H2.4" stroke="#eed8de" stroke-width="1"/></g></g></defs>
<circle cx="65.2" cy="419.3" r="27.6" fill="url(#pinkg)"/>
<use href="#knot" transform="translate(68,426)"/>
<path d="M59.6,471.2 H65.4" stroke="#1a2450" stroke-width="1.1"/><path d="M59.6,474.9 H65.4" stroke="#0a0e28" stroke-width="1.8"/>
<path d="M68,425 V415 H77.3" stroke="#111" stroke-width="1.15" fill="none"/><path d="M80.8,415 l-4.6,-2.4 v4.8 z" fill="#111"/>
<text x="57.1" y="486.8" font-size="7.6" text-anchor="middle" fill="#231f20" font-weight="normal" textLength="64.3" lengthAdjust="spacingAndGlyphs" >Closed chromatin</text>
<circle cx="188" cy="369.8" r="29.7" fill="url(#pinkg)"/>
<use href="#knot" transform="translate(192.4,373.3)"/>
<ellipse cx="182.9" cy="419.1" rx="2.7" ry="5.3" fill="url(#tfg)"/>
<rect x="186.1" y="416.9" width="3.2" height="6.6" fill="#d03a68"/><rect x="186.1" y="419.3" width="3.2" height="1.9" fill="#f4e6ea"/>
<path d="M192.4,372.3 V361 H203.3" stroke="#111" stroke-width="1.15" fill="none"/><path d="M206.8,361 l-4.6,-2.4 v4.8 z" fill="#111"/>
<text x="187.5" y="433.3" font-size="7.6" text-anchor="middle" fill="#231f20" font-weight="normal" textLength="49.5" lengthAdjust="spacingAndGlyphs" >Occupancy of</text>
<text x="187.3" y="442.7" font-size="7.6" text-anchor="middle" fill="#231f20" font-weight="normal" textLength="39.2" lengthAdjust="spacingAndGlyphs" >master TFs</text>
<circle cx="305.6" cy="366.5" r="29.6" fill="url(#pinkg)"/>
<use href="#knot" transform="translate(310.4,371.3)"/>
<path d="M310.9,390.3 L304.6,411.5" stroke="#111" stroke-width="1.2" stroke-dasharray="2.6,1.6"/>
<ellipse cx="301.5" cy="416.5" rx="2.7" ry="5.3" fill="url(#tfg)"/>
<rect x="304.40000000000003" y="411.2" width="5.8" height="10.6" rx="2.8" ry="3.4" fill="url(#ctg)"/>
<path d="M310.4,370.3 V358.8 H320.5" stroke="#111" stroke-width="1.15" fill="none"/><path d="M324,358.8 l-4.6,-2.4 v4.8 z" fill="#111"/>
<text x="311.4" y="431.4" font-size="7.6" text-anchor="middle" fill="#231f20" font-weight="normal" textLength="89.5" lengthAdjust="spacingAndGlyphs" >Interactions mediated by</text>
<text x="311.4" y="440.8" font-size="7.6" text-anchor="middle" fill="#231f20" font-weight="normal" textLength="93.2" lengthAdjust="spacingAndGlyphs" >dynamic CTCF occupancy</text>
<circle cx="435" cy="368.1" r="31.2" fill="url(#pinkg)"/>
<g transform="translate(435.7,376.4)"><path d="M-1,5 C-3,14 -9,26 -17,36 C-21,41 -28,41 -27,35 C-26,29 -17,15 -7,5" stroke="#222222" stroke-width="6.3" fill="none"/><path d="M-1,5 C-3,14 -9,26 -17,36 C-21,41 -28,41 -27,35 C-26,29 -17,15 -7,5" stroke="#4e4e4e" stroke-width="5.3" fill="none"/><path d="M-1,5 C-3,14 -9,26 -17,36 C-21,41 -28,41 -27,35 C-26,29 -17,15 -7,5" stroke="#747474" stroke-width="4.2" fill="none"/><path d="M-1,5 C-3,14 -9,26 -17,36 C-21,41 -28,41 -27,35 C-26,29 -17,15 -7,5" stroke="#9e9e9e" stroke-width="3.0" fill="none"/><path d="M-1,5 C-3,14 -9,26 -17,36 C-21,41 -28,41 -27,35 C-26,29 -17,15 -7,5" stroke="#c6c6c6" stroke-width="1.8" fill="none"/><path d="M-1,5 C-3,14 -9,26 -17,36 C-21,41 -28,41 -27,35 C-26,29 -17,15 -7,5" stroke="#e8e8e8" stroke-width="0.7" fill="none"/><path d="M-1,5 C0,15 2,28 4,35 C5.5,40 9,41.5 12,41 C16,40.5 17,35 16,30 C14,22 9,12 3,4" stroke="#222222" stroke-width="6.3" fill="none"/><path d="M-1,5 C0,15 2,28 4,35 C5.5,40 9,41.5 12,41 C16,40.5 17,35 16,30 C14,22 9,12 3,4" stroke="#4e4e4e" stroke-width="5.3" fill="none"/><path d="M-1,5 C0,15 2,28 4,35 C5.5,40 9,41.5 12,41 C16,40.5 17,35 16,30 C14,22 9,12 3,4" stroke="#747474" stroke-width="4.2" fill="none"/><path d="M-1,5 C0,15 2,28 4,35 C5.5,40 9,41.5 12,41 C16,40.5 17,35 16,30 C14,22 9,12 3,4" stroke="#9e9e9e" stroke-width="3.0" fill="none"/><path d="M-1,5 C0,15 2,28 4,35 C5.5,40 9,41.5 12,41 C16,40.5 17,35 16,30 C14,22 9,12 3,4" stroke="#c6c6c6" stroke-width="1.8" fill="none"/><path d="M-1,5 C0,15 2,28 4,35 C5.5,40 9,41.5 12,41 C16,40.5 17,35 16,30 C14,22 9,12 3,4" stroke="#e8e8e8" stroke-width="0.7" fill="none"/><path d="M3,2 C12,6 25,13 33.3,20.6" stroke="#222222" stroke-width="6.3" fill="none"/><path d="M3,2 C12,6 25,13 33.3,20.6" stroke="#4e4e4e" stroke-width="5.3" fill="none"/><path d="M3,2 C12,6 25,13 33.3,20.6" stroke="#747474" stroke-width="4.2" fill="none"/><path d="M3,2 C12,6 25,13 33.3,20.6" stroke="#9e9e9e" stroke-width="3.0" fill="none"/><path d="M3,2 C12,6 25,13 33.3,20.6" stroke="#c6c6c6" stroke-width="1.8" fill="none"/><path d="M3,2 C12,6 25,13 33.3,20.6" stroke="#e8e8e8" stroke-width="0.7" fill="none"/><path d="M18,-1.7 L0,0 C-5,0 -11,-3.6 -18,-3.6 C-24.5,-3.6 -28.3,0.5 -28.3,5 C-28.3,10 -24,13.6 -18,13.6 C-12,13.6 -6,8.5 -2,4" stroke="#222222" stroke-width="6.3" fill="none"/><path d="M18,-1.7 L0,0 C-5,0 -11,-3.6 -18,-3.6 C-24.5,-3.6 -28.3,0.5 -28.3,5 C-28.3,10 -24,13.6 -18,13.6 C-12,13.6 -6,8.5 -2,4" stroke="#4e4e4e" stroke-width="5.3" fill="none"/><path d="M18,-1.7 L0,0 C-5,0 -11,-3.6 -18,-3.6 C-24.5,-3.6 -28.3,0.5 -28.3,5 C-28.3,10 -24,13.6 -18,13.6 C-12,13.6 -6,8.5 -2,4" stroke="#747474" stroke-width="4.2" fill="none"/><path d="M18,-1.7 L0,0 C-5,0 -11,-3.6 -18,-3.6 C-24.5,-3.6 -28.3,0.5 -28.3,5 C-28.3,10 -24,13.6 -18,13.6 C-12,13.6 -6,8.5 -2,4" stroke="#9e9e9e" stroke-width="3.0" fill="none"/><path d="M18,-1.7 L0,0 C-5,0 -11,-3.6 -18,-3.6 C-24.5,-3.6 -28.3,0.5 -28.3,5 C-28.3,10 -24,13.6 -18,13.6 C-12,13.6 -6,8.5 -2,4" stroke="#c6c6c6" stroke-width="1.8" fill="none"/><path d="M18,-1.7 L0,0 C-5,0 -11,-3.6 -18,-3.6 C-24.5,-3.6 -28.3,0.5 -28.3,5 C-28.3,10 -24,13.6 -18,13.6 C-12,13.6 -6,8.5 -2,4" stroke="#e8e8e8" stroke-width="0.7" fill="none"/><rect x="-2.2" y="-2.8" width="4.4" height="5" rx="0.8" fill="#c8955a"/><rect x="-1.3" y="-1.8" width="2.6" height="3" fill="#f6efe2"/><g transform="translate(-4.4,3.5) rotate(45)"><path d="M-3,-1.6 H3 M-3,1.6 H3" stroke="#d03a68" stroke-width="1.5"/><path d="M-2.8,0 H2.8" stroke="#f6eef0" stroke-width="1.4"/></g><g transform="translate(5.1,5.2) rotate(45)"><path d="M-3,-1.6 H3 M-3,1.6 H3" stroke="#d03a68" stroke-width="1.5"/><path d="M-2.8,0 H2.8" stroke="#f6eef0" stroke-width="1.4"/></g></g>
<path d="M427.4,357.3 V349.2 H436.5" stroke="#111" stroke-width="1.15" fill="none"/><path d="M440,349.2 l-4.6,-2.4 v4.8 z" fill="#111"/>
<path d="M431.6,365 V357 H440.8" stroke="#111" stroke-width="1.15" fill="none"/><path d="M444.3,357 l-4.6,-2.4 v4.8 z" fill="#111"/>
<path d="M435.8,371.5 V363 H444.9" stroke="#111" stroke-width="1.15" fill="none"/><path d="M448.4,363 l-4.6,-2.4 v4.8 z" fill="#111"/>
<text x="434.8" y="325.4" font-size="7.6" text-anchor="middle" fill="#231f20" font-weight="normal" textLength="34.2" lengthAdjust="spacingAndGlyphs" >Increased</text>
<text x="436" y="335.1" font-size="7.6" text-anchor="middle" fill="#231f20" font-weight="normal" textLength="46.6" lengthAdjust="spacingAndGlyphs" >Transcription</text>
<circle cx="205.4" cy="493" r="28.1" fill="url(#pinkg)"/>
<use href="#knot" transform="translate(205.4,502.3)"/>
<path d="M202.5,527.6 L200,544.5" stroke="#111" stroke-width="1.1" stroke-dasharray="2.6,1.6"/><path d="M198.6,526.9 L206.3,525.8" stroke="#111" stroke-width="1"/>
<ellipse cx="196.2" cy="547.8" rx="2.7" ry="5.3" fill="url(#tfg)"/>
<path d="M200.6,546.2 V551.4 M199.4,546.2 H201.8 M199.4,551.4 H201.8" stroke="#4a0c18" stroke-width="1"/>
<path d="M205.4,501.3 V490 H215.9" stroke="#111" stroke-width="1.15" fill="none"/><path d="M219.4,490 l-4.6,-2.4 v4.8 z" fill="#111"/>
<text x="200.8" y="566.0" font-size="7.6" text-anchor="middle" fill="#231f20" font-weight="normal" textLength="79" lengthAdjust="spacingAndGlyphs" >Loss CTCF occupancy</text>
<text x="202.2" y="575.4" font-size="7.6" text-anchor="middle" fill="#231f20" font-weight="normal" textLength="49.3" lengthAdjust="spacingAndGlyphs" >&amp; interactions</text>
<circle cx="329.7" cy="493.5" r="27.7" fill="url(#pinkg)"/>
<use href="#knot" transform="translate(329.7,501.1)"/>
<ellipse cx="319.3" cy="546.6" rx="2.7" ry="5.3" fill="url(#tfg)"/>
<path d="M324.6,544 V549.6 M323.4,544 H325.8 M323.4,549.6 H325.8" stroke="#4a0c18" stroke-width="1"/>
<path d="M320.4,487.3 V479.4 H329.2" stroke="#111" stroke-width="1.15" fill="none"/><path d="M332.7,479.4 l-4.6,-2.4 v4.8 z" fill="#111"/>
<path d="M324.6,490.8 V482.7 H333.4" stroke="#111" stroke-width="1.15" fill="none"/><path d="M336.9,482.7 l-4.6,-2.4 v4.8 z" fill="#111"/>
<path d="M329.7,499 V487.8 H339.2" stroke="#111" stroke-width="1.15" fill="none"/><path d="M342.7,487.8 l-4.6,-2.4 v4.8 z" fill="#111"/>
<path d="M316.9,484.2 L329.6,480.4 M321.2,475.8 L325.4,488.8" stroke="#c0284a" stroke-width="1"/>
<text x="332" y="562.3" font-size="7.6" text-anchor="middle" fill="#231f20" font-weight="normal" textLength="71.7" lengthAdjust="spacingAndGlyphs" >limited transcription</text>
<path transform="translate(110,405.5) rotate(-37.79)" d="M0,-3.0 H27.14575451693534 V-6.35 L45.04575451693534,0 L27.14575451693534,6.35 V3.0 H0 Z" fill="url(#arrg)"/>
<path transform="translate(236,371.2) rotate(0.00)" d="M0,-2.7 H18.599999999999977 V-4.9 L30.899999999999977,0 L18.599999999999977,4.9 V2.7 H0 Z" fill="url(#arrg)"/>
<path transform="translate(359,371.6) rotate(0.00)" d="M0,-2.7 H18.7 V-4.9 L31.0,0 L18.7,4.9 V2.7 H0 Z" fill="url(#arrg)"/>
<path transform="translate(117,463.6) rotate(31.05)" d="M0,-3.0 H25.92349594401628 V-6.35 L43.42349594401628,0 L25.92349594401628,6.35 V3.0 H0 Z" fill="url(#arrg)"/>
<path transform="translate(256,511.3) rotate(0.00)" d="M0,-2.7 H18.2 V-4.9 L30.5,0 L18.2,4.9 V2.7 H0 Z" fill="url(#arrg)"/>
<text transform="translate(115.4,383.6) rotate(-33)" font-size="8.4" text-anchor="middle" fill="#231f20" textLength="52" lengthAdjust="spacingAndGlyphs">Differentiation</text>
<circle cx="113.6" cy="479.8" r="7.9" fill="none" stroke="#333" stroke-width="1.1"/>
<g transform="translate(113.6,479.8) rotate(-17)"><path d="M-7.6,0 H7.6 M0,-7.6 V7.6" stroke="#c0284a" stroke-width="0.9"/></g>
<text transform="translate(133.4,494) rotate(31)" font-size="8.4" text-anchor="middle" fill="#231f20" textLength="24" lengthAdjust="spacingAndGlyphs">Delete</text>
<text transform="translate(133,506.8) rotate(32)" font-size="8.4" text-anchor="middle" fill="#231f20" textLength="40" lengthAdjust="spacingAndGlyphs">CTCF motif</text>
<ellipse cx="391.7" cy="452" rx="2.9" ry="5.5" fill="url(#tfg)"/>
<rect x="388.6" y="459" width="6.2" height="10.2" rx="3" ry="3.4" fill="url(#ctg)"/>
<path d="M387.1,473.5 H396.5 M387.1,477.8 H396.5" stroke="#c9a070" stroke-width="1.5"/>
<path d="M387.1,485.2 H396.5 M387.1,489.5 H396.5" stroke="#c8405e" stroke-width="1.5"/>
<path d="M387.1,496.7 H396.5" stroke="#1a2040" stroke-width="1.2"/><path d="M387.1,500.4 H396.5" stroke="#0c1030" stroke-width="2"/>
<circle cx="391.7" cy="518.9" r="13.2" fill="url(#pinkg)"/>
<text x="407.8" y="455.1" font-size="7.6" text-anchor="start" fill="#231f20" font-weight="normal" textLength="62.7" lengthAdjust="spacingAndGlyphs" >lineage-specific TF</text>
<text x="407.8" y="466.7" font-size="7.6" text-anchor="start" fill="#231f20" font-weight="normal" textLength="18.3" lengthAdjust="spacingAndGlyphs" >CTCF</text>
<text x="407.8" y="478.5" font-size="7.6" text-anchor="start" fill="#231f20" font-weight="normal" textLength="31.8" lengthAdjust="spacingAndGlyphs" >Promoter</text>
<text x="407.8" y="490.1" font-size="7.6" text-anchor="start" fill="#231f20" font-weight="normal" textLength="31.2" lengthAdjust="spacingAndGlyphs" >Enhancer</text>
<text x="407.8" y="501.7" font-size="7.6" text-anchor="start" fill="#231f20" font-weight="normal" textLength="59.2" lengthAdjust="spacingAndGlyphs" >Closed chromatin</text>
<text x="407.8" y="517" font-size="7.6" text-anchor="start" fill="#231f20" font-weight="normal" textLength="99" lengthAdjust="spacingAndGlyphs" >Phase-separated Condensate</text>
<text x="407.8" y="526.5" font-size="7.6" text-anchor="start" fill="#231f20" font-weight="normal" textLength="75.7" lengthAdjust="spacingAndGlyphs" >or Transcription Factor</text>
</g>
<rect x="0" y="0" width="520" height="1.4" fill="#000"/><rect x="0" y="0" width="1.3" height="597" fill="#000"/><rect x="518.7" y="0" width="1.3" height="597" fill="#000"/><rect x="0" y="595.6" width="520" height="1.4" fill="#000"/>
</svg></body></html>
